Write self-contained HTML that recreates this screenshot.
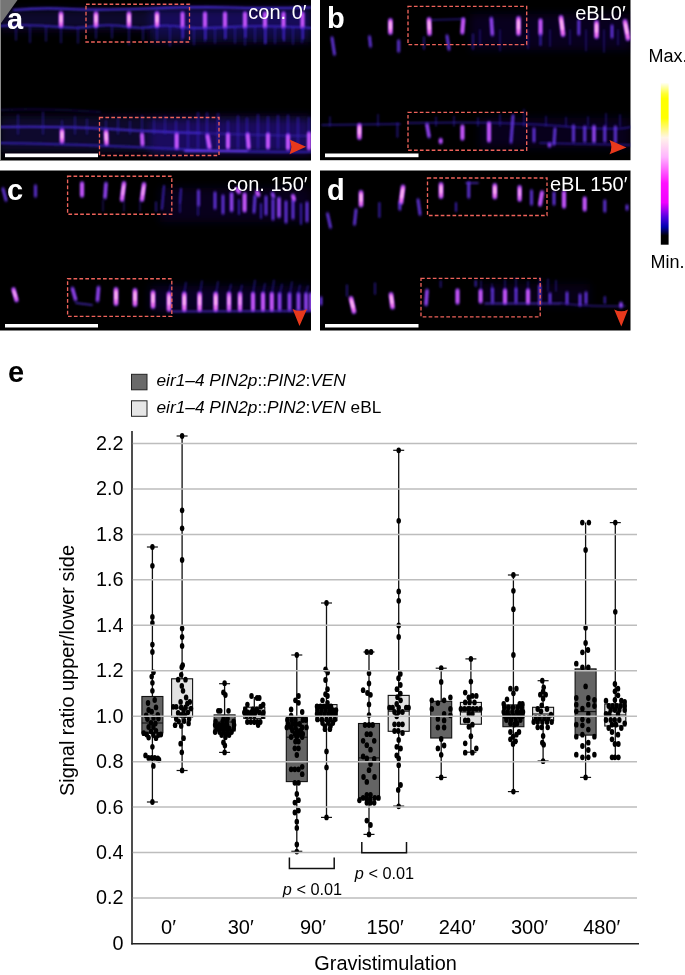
<!DOCTYPE html>
<html><head><meta charset="utf-8"><title>figure</title>
<style>html,body{margin:0;padding:0;background:#fff;}svg{display:block;font-family:"Liberation Sans",sans-serif;}</style>
</head><body>
<svg width="685" height="975" viewBox="0 0 685 975">
<defs>
<filter id="b05" x="-50%" y="-50%" width="200%" height="200%"><feGaussianBlur stdDeviation="0.8"/></filter>
<filter id="b1" x="-50%" y="-50%" width="200%" height="200%"><feGaussianBlur stdDeviation="0.9"/></filter>
<filter id="b2" x="-50%" y="-50%" width="200%" height="200%"><feGaussianBlur stdDeviation="1.3"/></filter>
<filter id="b4" x="-50%" y="-50%" width="200%" height="200%"><feGaussianBlur stdDeviation="4"/></filter>
<linearGradient id="cbar" x1="0" y1="0" x2="0" y2="1">
<stop offset="0.000" stop-color="#ffffff"/>
<stop offset="0.070" stop-color="#ffff30"/>
<stop offset="0.100" stop-color="#ffff00"/>
<stop offset="0.220" stop-color="#ffff00"/>
<stop offset="0.340" stop-color="#fff4e8"/>
<stop offset="0.460" stop-color="#ffb4ff"/>
<stop offset="0.620" stop-color="#ff10ff"/>
<stop offset="0.740" stop-color="#f000ff"/>
<stop offset="0.830" stop-color="#5000e0"/>
<stop offset="0.890" stop-color="#0000b0"/>
<stop offset="0.945" stop-color="#000000"/>
<stop offset="1.000" stop-color="#000000"/>
</linearGradient>
</defs>
<rect width="685" height="975" fill="#fff"/>
<g>
<rect x="0.0" y="0.0" width="311.0" height="160.5" fill="#000"/>
<clipPath id="clip0_0"><rect x="0.0" y="0.0" width="311.0" height="160.5"/></clipPath>
<g clip-path="url(#clip0_0)">
<g filter="url(#b4)">
<rect x="0" y="10" width="311" height="20" fill="#2a18a0" opacity="0.28"/>
<rect x="150" y="8" width="161" height="34" fill="#2a18a0" opacity="0.38"/>
<rect x="0" y="116" width="311" height="36" fill="#24148c" opacity="0.32"/>
<rect x="150" y="120" width="161" height="34" fill="#3018b0" opacity="0.38"/>
</g>
<g filter="url(#b1)" fill="none" stroke-linecap="round">
<path d="M14 10 Q40 7.5 70 9 T150 8.5 T230 7.5 T311 7.5" stroke="#4a30e0" stroke-width="2.2" opacity="0.9"/>
<path d="M0 26 Q30 24 60 27 Q80 29 96 26 Q112 24 129 27 Q143 29 157 26 Q170 25 182 27 T230 27 T311 28" stroke="#4028d0" stroke-width="1.8" opacity="0.85"/>
<line x1="16.0" y1="27" x2="16.0" y2="39.9" stroke="#3620c0" stroke-width="1.6" opacity="0.55"/>
<line x1="30.0" y1="27" x2="30.0" y2="42.4" stroke="#3620c0" stroke-width="1.6" opacity="0.55"/>
<line x1="46.0" y1="27" x2="46.0" y2="41.0" stroke="#3620c0" stroke-width="1.6" opacity="0.55"/>
<line x1="61.0" y1="27" x2="61.0" y2="42.8" stroke="#3620c0" stroke-width="1.6" opacity="0.55"/>
<line x1="78.0" y1="27" x2="78.0" y2="43.0" stroke="#3620c0" stroke-width="1.6" opacity="0.55"/>
<line x1="96.0" y1="27" x2="96.0" y2="38.5" stroke="#3620c0" stroke-width="1.6" opacity="0.55"/>
<line x1="112.0" y1="27" x2="112.0" y2="38.1" stroke="#3620c0" stroke-width="1.6" opacity="0.55"/>
<line x1="129.0" y1="27" x2="129.0" y2="44.7" stroke="#3620c0" stroke-width="1.6" opacity="0.55"/>
<line x1="143.0" y1="27" x2="143.0" y2="40.1" stroke="#3620c0" stroke-width="1.6" opacity="0.55"/>
<line x1="157.0" y1="27" x2="157.0" y2="39.9" stroke="#3620c0" stroke-width="1.6" opacity="0.55"/>
<line x1="170.0" y1="27" x2="170.0" y2="46.0" stroke="#3620c0" stroke-width="1.6" opacity="0.55"/>
<line x1="182.0" y1="27" x2="182.0" y2="41.8" stroke="#3620c0" stroke-width="1.6" opacity="0.55"/>
<line x1="194.0" y1="27" x2="194.0" y2="44.7" stroke="#3620c0" stroke-width="1.6" opacity="0.55"/>
<line x1="205.0" y1="27" x2="205.0" y2="41.8" stroke="#3620c0" stroke-width="1.6" opacity="0.55"/>
<line x1="215.0" y1="27" x2="215.0" y2="43.1" stroke="#3620c0" stroke-width="1.6" opacity="0.55"/>
<line x1="225.0" y1="27" x2="225.0" y2="39.2" stroke="#3620c0" stroke-width="1.6" opacity="0.55"/>
<line x1="235.0" y1="27" x2="235.0" y2="43.1" stroke="#3620c0" stroke-width="1.6" opacity="0.55"/>
<line x1="245.0" y1="27" x2="245.0" y2="44.9" stroke="#3620c0" stroke-width="1.6" opacity="0.55"/>
<line x1="255.0" y1="27" x2="255.0" y2="42.2" stroke="#3620c0" stroke-width="1.6" opacity="0.55"/>
<line x1="265.0" y1="27" x2="265.0" y2="43.9" stroke="#3620c0" stroke-width="1.6" opacity="0.55"/>
<line x1="275.0" y1="27" x2="275.0" y2="43.4" stroke="#3620c0" stroke-width="1.6" opacity="0.55"/>
<line x1="283.0" y1="27" x2="283.0" y2="38.5" stroke="#3620c0" stroke-width="1.6" opacity="0.55"/>
<line x1="293.0" y1="27" x2="293.0" y2="44.1" stroke="#3620c0" stroke-width="1.6" opacity="0.55"/>
<line x1="302.0" y1="27" x2="302.0" y2="42.7" stroke="#3620c0" stroke-width="1.6" opacity="0.55"/>
<path d="M0 127 Q60 126 110 129 T200 133" stroke="#4a30e0" stroke-width="2" opacity="0.85"/>
<path d="M200 133 Q250 135 311 136" stroke="#4a30e0" stroke-width="2" opacity="0.4"/>
<path d="M0 143 Q60 144 110 146 T200 150 T311 152" stroke="#3a24c8" stroke-width="1.8" opacity="0.8"/>
<path d="M185 151 L247 151" stroke="#7040ff" stroke-width="2.2" opacity="0.9"/>
<path d="M0 110 Q50 108 100 112" stroke="#2c1ca8" stroke-width="2" opacity="0.3"/>
<line x1="18.0" y1="115.0" x2="18.0" y2="134" stroke="#3620c0" stroke-width="1.6" opacity="0.55"/>
<line x1="43.0" y1="112.3" x2="43.0" y2="134" stroke="#3620c0" stroke-width="1.6" opacity="0.55"/>
<line x1="62.0" y1="120.7" x2="62.0" y2="134" stroke="#3620c0" stroke-width="1.6" opacity="0.55"/>
<line x1="75.0" y1="116.7" x2="75.0" y2="134" stroke="#3620c0" stroke-width="1.6" opacity="0.55"/>
<line x1="87.0" y1="119.2" x2="87.0" y2="134" stroke="#3620c0" stroke-width="1.6" opacity="0.55"/>
<line x1="106.0" y1="120.8" x2="106.0" y2="134" stroke="#3620c0" stroke-width="1.6" opacity="0.55"/>
<line x1="118.0" y1="119.1" x2="118.0" y2="134" stroke="#3620c0" stroke-width="1.6" opacity="0.55"/>
<line x1="130.0" y1="121.2" x2="130.0" y2="134" stroke="#3620c0" stroke-width="1.6" opacity="0.55"/>
<line x1="142.0" y1="115.9" x2="142.0" y2="134" stroke="#3620c0" stroke-width="1.6" opacity="0.55"/>
<line x1="154.0" y1="120.0" x2="154.0" y2="134" stroke="#3620c0" stroke-width="1.6" opacity="0.55"/>
<line x1="165.0" y1="116.4" x2="165.0" y2="134" stroke="#3620c0" stroke-width="1.6" opacity="0.55"/>
<line x1="176.0" y1="121.4" x2="176.0" y2="148" stroke="#3620c0" stroke-width="2.2" opacity="0.55"/>
<line x1="188.0" y1="120.8" x2="188.0" y2="148" stroke="#3620c0" stroke-width="2.2" opacity="0.55"/>
<line x1="198.0" y1="113.0" x2="198.0" y2="148" stroke="#3620c0" stroke-width="2.2" opacity="0.55"/>
<line x1="207.0" y1="113.4" x2="207.0" y2="148" stroke="#3620c0" stroke-width="2.2" opacity="0.55"/>
<line x1="218.0" y1="114.2" x2="218.0" y2="148" stroke="#3620c0" stroke-width="2.2" opacity="0.55"/>
<line x1="228.0" y1="121.7" x2="228.0" y2="148" stroke="#3620c0" stroke-width="2.2" opacity="0.55"/>
<line x1="238.0" y1="116.4" x2="238.0" y2="148" stroke="#3620c0" stroke-width="2.2" opacity="0.55"/>
<line x1="247.0" y1="118.3" x2="247.0" y2="148" stroke="#3620c0" stroke-width="2.2" opacity="0.55"/>
<line x1="258.0" y1="115.0" x2="258.0" y2="148" stroke="#3620c0" stroke-width="2.2" opacity="0.55"/>
<line x1="268.0" y1="117.1" x2="268.0" y2="148" stroke="#3620c0" stroke-width="2.2" opacity="0.55"/>
<line x1="278.0" y1="115.9" x2="278.0" y2="148" stroke="#3620c0" stroke-width="2.2" opacity="0.55"/>
<line x1="288.0" y1="115.5" x2="288.0" y2="148" stroke="#3620c0" stroke-width="2.2" opacity="0.55"/>
<line x1="298.0" y1="117.9" x2="298.0" y2="148" stroke="#3620c0" stroke-width="2.2" opacity="0.55"/>
<line x1="309.0" y1="117.8" x2="309.0" y2="148" stroke="#3620c0" stroke-width="2.2" opacity="0.55"/>
</g>
<g filter="url(#b2)" stroke-linecap="round" fill="none">
<line x1="61.0" y1="13.0" x2="61.0" y2="26.0" stroke="#9038f0" stroke-opacity="0.80" stroke-width="4.6"/>
<line x1="96.0" y1="13.0" x2="96.0" y2="26.0" stroke="#9038f0" stroke-opacity="0.80" stroke-width="4.6"/>
<line x1="129.0" y1="13.0" x2="129.0" y2="26.0" stroke="#9038f0" stroke-opacity="0.80" stroke-width="4.6"/>
<line x1="157.0" y1="13.0" x2="157.0" y2="26.0" stroke="#9038f0" stroke-opacity="0.80" stroke-width="4.6"/>
<line x1="182.5" y1="13.0" x2="182.5" y2="27.0" stroke="#9038f0" stroke-opacity="0.80" stroke-width="4.0"/>
<line x1="205.0" y1="13.0" x2="205.0" y2="27.0" stroke="#9038f0" stroke-opacity="0.80" stroke-width="4.0"/>
<line x1="225.0" y1="13.0" x2="225.0" y2="27.0" stroke="#9038f0" stroke-opacity="0.80" stroke-width="4.0"/>
<line x1="245.0" y1="13.0" x2="245.0" y2="27.0" stroke="#9038f0" stroke-opacity="0.80" stroke-width="4.0"/>
<line x1="265.0" y1="13.0" x2="265.0" y2="27.0" stroke="#9038f0" stroke-opacity="0.80" stroke-width="4.0"/>
<line x1="283.5" y1="13.0" x2="283.5" y2="27.0" stroke="#9038f0" stroke-opacity="0.80" stroke-width="4.0"/>
<line x1="302.5" y1="13.0" x2="302.5" y2="27.0" stroke="#9038f0" stroke-opacity="0.80" stroke-width="4.0"/>
<line x1="62.0" y1="130.0" x2="62.0" y2="142.0" stroke="#9038f0" stroke-opacity="0.80" stroke-width="4.6"/>
<line x1="106.0" y1="131.0" x2="106.5" y2="144.0" stroke="#9038f0" stroke-opacity="0.80" stroke-width="4.6"/>
<line x1="142.0" y1="134.0" x2="142.5" y2="145.0" stroke="#9038f0" stroke-opacity="0.80" stroke-width="4.0"/>
<line x1="176.7" y1="134.0" x2="176.7" y2="148.0" stroke="#9038f0" stroke-opacity="0.80" stroke-width="4.0"/>
<line x1="207.5" y1="135.0" x2="209.5" y2="148.0" stroke="#9038f0" stroke-opacity="0.80" stroke-width="4.0"/>
<line x1="228.0" y1="134.0" x2="228.0" y2="148.0" stroke="#9038f0" stroke-opacity="0.80" stroke-width="4.0"/>
<line x1="247.7" y1="134.0" x2="248.7" y2="148.0" stroke="#9038f0" stroke-opacity="0.80" stroke-width="4.0"/>
<line x1="268.0" y1="134.0" x2="268.0" y2="148.0" stroke="#9038f0" stroke-opacity="0.80" stroke-width="4.0"/>
<line x1="288.0" y1="135.0" x2="288.0" y2="149.0" stroke="#9038f0" stroke-opacity="0.80" stroke-width="4.0"/>
<line x1="309.0" y1="133.0" x2="309.0" y2="149.0" stroke="#9038f0" stroke-opacity="0.80" stroke-width="4.0"/>
</g>
<g filter="url(#b1)" stroke-linecap="round" fill="none">
<line x1="61.0" y1="14.0" x2="61.0" y2="25.0" stroke="#ff78f8" stroke-opacity="1.00" stroke-width="3.2"/>
<line x1="96.0" y1="14.0" x2="96.0" y2="25.0" stroke="#ff78f8" stroke-opacity="1.00" stroke-width="3.2"/>
<line x1="129.0" y1="14.0" x2="129.0" y2="25.0" stroke="#ff78f8" stroke-opacity="1.00" stroke-width="3.2"/>
<line x1="157.0" y1="14.0" x2="157.0" y2="25.0" stroke="#ff78f8" stroke-opacity="1.00" stroke-width="3.2"/>
<line x1="182.5" y1="14.0" x2="182.5" y2="26.0" stroke="#d860ff" stroke-opacity="1.00" stroke-width="2.6"/>
<line x1="183.0" y1="27.0" x2="183.0" y2="37.5" stroke="#4226c8" stroke-opacity="0.90" stroke-width="1.9"/>
<line x1="205.0" y1="14.0" x2="205.0" y2="26.0" stroke="#d860ff" stroke-opacity="1.00" stroke-width="2.6"/>
<line x1="205.5" y1="27.0" x2="205.5" y2="39.0" stroke="#4226c8" stroke-opacity="0.90" stroke-width="1.9"/>
<line x1="225.0" y1="14.0" x2="225.0" y2="26.0" stroke="#d860ff" stroke-opacity="1.00" stroke-width="2.6"/>
<line x1="225.5" y1="27.0" x2="225.5" y2="38.0" stroke="#4226c8" stroke-opacity="0.90" stroke-width="1.9"/>
<line x1="245.0" y1="14.0" x2="245.0" y2="26.0" stroke="#d860ff" stroke-opacity="1.00" stroke-width="2.6"/>
<line x1="245.5" y1="27.0" x2="245.5" y2="37.0" stroke="#4226c8" stroke-opacity="0.90" stroke-width="1.9"/>
<line x1="265.0" y1="14.0" x2="265.0" y2="26.0" stroke="#d860ff" stroke-opacity="1.00" stroke-width="2.6"/>
<line x1="265.5" y1="27.0" x2="265.5" y2="43.0" stroke="#4226c8" stroke-opacity="0.90" stroke-width="1.9"/>
<line x1="283.5" y1="14.0" x2="283.5" y2="26.0" stroke="#d860ff" stroke-opacity="1.00" stroke-width="2.6"/>
<line x1="284.0" y1="27.0" x2="284.0" y2="40.5" stroke="#4226c8" stroke-opacity="0.90" stroke-width="1.9"/>
<line x1="302.5" y1="14.0" x2="302.5" y2="26.0" stroke="#d860ff" stroke-opacity="1.00" stroke-width="2.6"/>
<line x1="303.0" y1="27.0" x2="303.0" y2="38.5" stroke="#4226c8" stroke-opacity="0.90" stroke-width="1.9"/>
<line x1="62.0" y1="131.0" x2="62.0" y2="141.0" stroke="#ff78f8" stroke-opacity="1.00" stroke-width="3.2"/>
<line x1="106.0" y1="132.0" x2="106.5" y2="143.0" stroke="#ff78f8" stroke-opacity="1.00" stroke-width="3.2"/>
<line x1="142.0" y1="135.0" x2="142.5" y2="144.0" stroke="#d860ff" stroke-opacity="1.00" stroke-width="2.6"/>
<line x1="176.7" y1="135.0" x2="176.7" y2="147.0" stroke="#d860ff" stroke-opacity="1.00" stroke-width="2.6"/>
<line x1="207.5" y1="136.0" x2="209.5" y2="147.0" stroke="#d860ff" stroke-opacity="1.00" stroke-width="2.6"/>
<line x1="228.0" y1="135.0" x2="228.0" y2="147.0" stroke="#d860ff" stroke-opacity="1.00" stroke-width="2.6"/>
<line x1="247.7" y1="135.0" x2="248.7" y2="147.0" stroke="#d860ff" stroke-opacity="1.00" stroke-width="2.6"/>
<line x1="268.0" y1="135.0" x2="268.0" y2="147.0" stroke="#d860ff" stroke-opacity="1.00" stroke-width="2.6"/>
<line x1="288.0" y1="136.0" x2="288.0" y2="148.0" stroke="#d860ff" stroke-opacity="1.00" stroke-width="2.6"/>
<line x1="309.0" y1="134.0" x2="309.0" y2="148.0" stroke="#d860ff" stroke-opacity="1.00" stroke-width="2.6"/>
</g>
<g filter="url(#b05)" stroke-linecap="round" fill="none">
<line x1="61.0" y1="15.7" x2="61.0" y2="21.7" stroke="#ffd2f2" stroke-width="1.9"/>
<line x1="96.0" y1="15.7" x2="96.0" y2="21.7" stroke="#ffd2f2" stroke-width="1.9"/>
<line x1="129.0" y1="15.7" x2="129.0" y2="21.7" stroke="#ffd2f2" stroke-width="1.9"/>
<line x1="157.0" y1="15.7" x2="157.0" y2="21.7" stroke="#ffd2f2" stroke-width="1.9"/>
<line x1="62.0" y1="132.5" x2="62.0" y2="138.0" stroke="#ffd2f2" stroke-width="1.9"/>
<line x1="106.1" y1="133.7" x2="106.3" y2="139.7" stroke="#ffd2f2" stroke-width="1.9"/>
</g>
<path d="M0 0 L17.5 0 L0 24.5 Z" fill="#757575"/>
<rect x="0" y="0" width="1" height="160.5" fill="#8a8a8a"/>
<rect x="86.0" y="4.2" width="103.5" height="37.8" fill="none" stroke="#ee625a" stroke-width="1.35" stroke-dasharray="3.7 2.2"/>
<rect x="99.5" y="117.5" width="119.5" height="38.0" fill="none" stroke="#ee625a" stroke-width="1.35" stroke-dasharray="3.7 2.2"/>
<path d="M306.0 146.7 L289.5 139.6 Q293.1 146.7 289.5 154.3 Z" fill="#e8391c"/>
<rect x="5.0" y="153.5" width="93.0" height="3.7" fill="#fff"/>
<text x="7.0" y="29.3" font-size="29" font-weight="bold" fill="#fff">a</text>
<text x="306.5" y="19.4" font-size="20" fill="#fff" text-anchor="end">con. 0&#8242;</text>
</g></g>
<g>
<rect x="320.0" y="0.0" width="310.5" height="160.2" fill="#000"/>
<clipPath id="clip320_0"><rect x="320.0" y="0.0" width="310.5" height="160.2"/></clipPath>
<g clip-path="url(#clip320_0)">
<g filter="url(#b4)">
<rect x="470" y="14" width="161" height="36" fill="#22128a" opacity="0.22"/>
<rect x="480" y="118" width="150" height="30" fill="#22128a" opacity="0.2"/>
</g>
<g filter="url(#b1)" fill="none" stroke-linecap="round">
<path d="M322 125 L400 124 M408 123 Q500 121 560 126 T630 127" stroke="#3620c0" stroke-width="1.6" opacity="0.7"/>
<path d="M540 143 L630 145" stroke="#3a24c8" stroke-width="1.6" opacity="0.7"/>
<path d="M430 20 L464 19" stroke="#3a24c8" stroke-width="1.4" opacity="0.6"/>
<line x1="330.0" y1="117.0" x2="330.0" y2="126" stroke="#3620c0" stroke-width="1.5" opacity="0.55"/>
<line x1="378.0" y1="114.8" x2="378.0" y2="126" stroke="#3620c0" stroke-width="1.5" opacity="0.55"/>
<line x1="436.0" y1="117.3" x2="436.0" y2="126" stroke="#3620c0" stroke-width="1.5" opacity="0.55"/>
<line x1="454.0" y1="116.6" x2="454.0" y2="126" stroke="#3620c0" stroke-width="1.5" opacity="0.55"/>
<line x1="478.0" y1="117.9" x2="478.0" y2="126" stroke="#3620c0" stroke-width="1.5" opacity="0.55"/>
<line x1="500.0" y1="114.7" x2="500.0" y2="126" stroke="#3620c0" stroke-width="1.5" opacity="0.55"/>
<line x1="524.0" y1="109.6" x2="524.0" y2="126" stroke="#3620c0" stroke-width="1.5" opacity="0.55"/>
<line x1="546.0" y1="116.6" x2="546.0" y2="126" stroke="#3620c0" stroke-width="1.5" opacity="0.55"/>
<line x1="566.0" y1="117.6" x2="566.0" y2="126" stroke="#3620c0" stroke-width="1.5" opacity="0.55"/>
<line x1="588.0" y1="117.0" x2="588.0" y2="126" stroke="#3620c0" stroke-width="1.5" opacity="0.55"/>
<line x1="606.0" y1="113.7" x2="606.0" y2="126" stroke="#3620c0" stroke-width="1.5" opacity="0.55"/>
<line x1="620.0" y1="115.1" x2="620.0" y2="126" stroke="#3620c0" stroke-width="1.5" opacity="0.55"/>
<line x1="480.0" y1="30" x2="480.0" y2="45.7" stroke="#3620c0" stroke-width="1.5" opacity="0.5"/>
<line x1="500.0" y1="30" x2="500.0" y2="50.7" stroke="#3620c0" stroke-width="1.5" opacity="0.5"/>
<line x1="528.0" y1="30" x2="528.0" y2="48.6" stroke="#3620c0" stroke-width="1.5" opacity="0.5"/>
<line x1="550.0" y1="30" x2="550.0" y2="46.3" stroke="#3620c0" stroke-width="1.5" opacity="0.5"/>
<line x1="570.0" y1="30" x2="570.0" y2="44.5" stroke="#3620c0" stroke-width="1.5" opacity="0.5"/>
<line x1="586.0" y1="30" x2="586.0" y2="50.8" stroke="#3620c0" stroke-width="1.5" opacity="0.5"/>
<line x1="604.0" y1="30" x2="604.0" y2="51.9" stroke="#3620c0" stroke-width="1.5" opacity="0.5"/>
<line x1="618.0" y1="30" x2="618.0" y2="44.7" stroke="#3620c0" stroke-width="1.5" opacity="0.5"/>
</g>
<g filter="url(#b2)" stroke-linecap="round" fill="none">
<line x1="390.4" y1="20.0" x2="390.4" y2="33.0" stroke="#9038f0" stroke-opacity="0.80" stroke-width="4.6"/>
<line x1="429.0" y1="19.0" x2="429.5" y2="34.0" stroke="#9038f0" stroke-opacity="0.80" stroke-width="4.6"/>
<line x1="463.3" y1="19.0" x2="462.3" y2="33.0" stroke="#9038f0" stroke-opacity="0.80" stroke-width="4.0"/>
<line x1="491.3" y1="18.0" x2="492.3" y2="35.0" stroke="#5a2ce0" stroke-opacity="0.50" stroke-width="4.0"/>
<line x1="518.5" y1="18.0" x2="518.5" y2="34.0" stroke="#9038f0" stroke-opacity="0.80" stroke-width="4.6"/>
<line x1="540.5" y1="20.0" x2="540.5" y2="34.0" stroke="#9038f0" stroke-opacity="0.80" stroke-width="4.0"/>
<line x1="561.0" y1="17.0" x2="563.0" y2="35.0" stroke="#9038f0" stroke-opacity="0.80" stroke-width="4.6"/>
<line x1="578.8" y1="20.0" x2="578.8" y2="35.0" stroke="#5a2ce0" stroke-opacity="0.30" stroke-width="3.6"/>
<line x1="596.5" y1="22.0" x2="596.5" y2="37.0" stroke="#9038f0" stroke-opacity="0.80" stroke-width="4.6"/>
<line x1="612.0" y1="25.0" x2="612.0" y2="38.0" stroke="#5a2ce0" stroke-opacity="0.30" stroke-width="3.6"/>
<line x1="625.0" y1="21.0" x2="628.0" y2="39.0" stroke="#9038f0" stroke-opacity="0.80" stroke-width="4.6"/>
<line x1="332.0" y1="37.0" x2="334.5" y2="55.0" stroke="#5a2ce0" stroke-opacity="0.30" stroke-width="3.6"/>
<line x1="369.5" y1="36.0" x2="370.5" y2="47.0" stroke="#5a2ce0" stroke-opacity="0.30" stroke-width="3.6"/>
<line x1="398.6" y1="40.0" x2="398.6" y2="52.0" stroke="#5a2ce0" stroke-opacity="0.30" stroke-width="3.6"/>
<line x1="447.0" y1="35.0" x2="449.0" y2="50.0" stroke="#5a2ce0" stroke-opacity="0.30" stroke-width="3.6"/>
<line x1="359.4" y1="125.0" x2="359.4" y2="138.0" stroke="#9038f0" stroke-opacity="0.80" stroke-width="4.6"/>
<line x1="427.0" y1="124.0" x2="429.0" y2="137.0" stroke="#5a2ce0" stroke-opacity="0.50" stroke-width="4.0"/>
<line x1="462.4" y1="126.0" x2="462.4" y2="139.0" stroke="#9038f0" stroke-opacity="0.80" stroke-width="4.0"/>
<line x1="440.7" y1="139.5" x2="440.7" y2="142.5" stroke="#9038f0" stroke-opacity="0.80" stroke-width="4.0"/>
<line x1="489.0" y1="123.0" x2="489.0" y2="141.0" stroke="#9038f0" stroke-opacity="0.80" stroke-width="4.0"/>
<line x1="513.0" y1="115.0" x2="511.0" y2="143.0" stroke="#5a2ce0" stroke-opacity="0.30" stroke-width="3.6"/>
<line x1="534.0" y1="128.0" x2="534.0" y2="142.0" stroke="#5a2ce0" stroke-opacity="0.30" stroke-width="3.6"/>
<line x1="555.0" y1="128.0" x2="554.0" y2="145.0" stroke="#5a2ce0" stroke-opacity="0.30" stroke-width="3.6"/>
<line x1="573.5" y1="125.0" x2="573.5" y2="142.0" stroke="#5a2ce0" stroke-opacity="0.30" stroke-width="3.6"/>
<line x1="584.7" y1="126.0" x2="584.7" y2="142.0" stroke="#5a2ce0" stroke-opacity="0.30" stroke-width="3.6"/>
<line x1="594.0" y1="126.0" x2="594.0" y2="142.0" stroke="#5a2ce0" stroke-opacity="0.50" stroke-width="4.0"/>
<line x1="604.8" y1="126.0" x2="604.8" y2="142.0" stroke="#5a2ce0" stroke-opacity="0.30" stroke-width="3.6"/>
<line x1="615.4" y1="126.0" x2="615.4" y2="143.0" stroke="#5a2ce0" stroke-opacity="0.30" stroke-width="3.6"/>
<line x1="549.5" y1="143.5" x2="549.5" y2="146.5" stroke="#5a2ce0" stroke-opacity="0.50" stroke-width="4.0"/>
</g>
<g filter="url(#b1)" stroke-linecap="round" fill="none">
<line x1="390.4" y1="21.0" x2="390.4" y2="32.0" stroke="#ff78f8" stroke-opacity="1.00" stroke-width="3.2"/>
<line x1="429.0" y1="20.0" x2="429.5" y2="33.0" stroke="#ff78f8" stroke-opacity="1.00" stroke-width="3.2"/>
<line x1="463.3" y1="20.0" x2="462.3" y2="32.0" stroke="#d860ff" stroke-opacity="1.00" stroke-width="2.6"/>
<line x1="491.3" y1="19.0" x2="492.3" y2="34.0" stroke="#a048f8" stroke-opacity="1.00" stroke-width="2.6"/>
<line x1="518.5" y1="19.0" x2="518.5" y2="33.0" stroke="#ff78f8" stroke-opacity="1.00" stroke-width="3.2"/>
<line x1="540.5" y1="21.0" x2="540.5" y2="33.0" stroke="#d860ff" stroke-opacity="1.00" stroke-width="2.6"/>
<line x1="540.5" y1="34.0" x2="540.5" y2="45.0" stroke="#4226c8" stroke-opacity="0.90" stroke-width="1.9"/>
<line x1="561.0" y1="18.0" x2="563.0" y2="34.0" stroke="#ff78f8" stroke-opacity="1.00" stroke-width="3.2"/>
<line x1="578.8" y1="21.0" x2="578.8" y2="34.0" stroke="#6a38e8" stroke-opacity="0.95" stroke-width="2.2"/>
<line x1="596.5" y1="23.0" x2="596.5" y2="36.0" stroke="#ff78f8" stroke-opacity="1.00" stroke-width="3.2"/>
<line x1="612.0" y1="26.0" x2="612.0" y2="37.0" stroke="#6a38e8" stroke-opacity="0.95" stroke-width="2.2"/>
<line x1="625.0" y1="22.0" x2="628.0" y2="38.0" stroke="#ff78f8" stroke-opacity="1.00" stroke-width="3.2"/>
<line x1="332.0" y1="38.0" x2="334.5" y2="54.0" stroke="#6a38e8" stroke-opacity="0.95" stroke-width="2.2"/>
<line x1="369.5" y1="37.0" x2="370.5" y2="46.0" stroke="#6a38e8" stroke-opacity="0.95" stroke-width="2.2"/>
<line x1="398.6" y1="41.0" x2="398.6" y2="51.0" stroke="#6a38e8" stroke-opacity="0.95" stroke-width="2.2"/>
<line x1="424.0" y1="37.0" x2="424.0" y2="49.0" stroke="#2e1ca0" stroke-opacity="0.80" stroke-width="1.7"/>
<line x1="447.0" y1="36.0" x2="449.0" y2="49.0" stroke="#6a38e8" stroke-opacity="0.95" stroke-width="2.2"/>
<line x1="473.0" y1="34.0" x2="473.0" y2="49.0" stroke="#2e1ca0" stroke-opacity="0.80" stroke-width="1.7"/>
<line x1="359.4" y1="126.0" x2="359.4" y2="137.0" stroke="#ff78f8" stroke-opacity="1.00" stroke-width="3.2"/>
<line x1="427.0" y1="125.0" x2="429.0" y2="136.0" stroke="#a048f8" stroke-opacity="1.00" stroke-width="2.6"/>
<line x1="462.4" y1="127.0" x2="462.4" y2="138.0" stroke="#d860ff" stroke-opacity="1.00" stroke-width="2.6"/>
<line x1="440.7" y1="140.5" x2="440.7" y2="141.5" stroke="#d860ff" stroke-opacity="1.00" stroke-width="2.6"/>
<line x1="397.4" y1="123.0" x2="397.4" y2="137.0" stroke="#2e1ca0" stroke-opacity="0.80" stroke-width="1.7"/>
<line x1="489.0" y1="124.0" x2="489.0" y2="140.0" stroke="#d860ff" stroke-opacity="1.00" stroke-width="2.6"/>
<line x1="513.0" y1="116.0" x2="511.0" y2="142.0" stroke="#6a38e8" stroke-opacity="0.95" stroke-width="2.2"/>
<line x1="534.0" y1="129.0" x2="534.0" y2="141.0" stroke="#6a38e8" stroke-opacity="0.95" stroke-width="2.2"/>
<line x1="555.0" y1="129.0" x2="554.0" y2="144.0" stroke="#6a38e8" stroke-opacity="0.95" stroke-width="2.2"/>
<line x1="573.5" y1="126.0" x2="573.5" y2="141.0" stroke="#6a38e8" stroke-opacity="0.95" stroke-width="2.2"/>
<line x1="584.7" y1="127.0" x2="584.7" y2="141.0" stroke="#6a38e8" stroke-opacity="0.95" stroke-width="2.2"/>
<line x1="594.0" y1="127.0" x2="594.0" y2="141.0" stroke="#a048f8" stroke-opacity="1.00" stroke-width="2.6"/>
<line x1="604.8" y1="127.0" x2="604.8" y2="141.0" stroke="#6a38e8" stroke-opacity="0.95" stroke-width="2.2"/>
<line x1="615.4" y1="127.0" x2="615.4" y2="142.0" stroke="#6a38e8" stroke-opacity="0.95" stroke-width="2.2"/>
<line x1="549.5" y1="144.5" x2="549.5" y2="145.5" stroke="#a048f8" stroke-opacity="1.00" stroke-width="2.6"/>
</g>
<g filter="url(#b05)" stroke-linecap="round" fill="none">
<line x1="390.4" y1="22.6" x2="390.4" y2="28.7" stroke="#ffd2f2" stroke-width="1.9"/>
<line x1="429.1" y1="21.9" x2="429.4" y2="29.1" stroke="#ffd2f2" stroke-width="1.9"/>
<line x1="518.5" y1="21.1" x2="518.5" y2="28.8" stroke="#ffd2f2" stroke-width="1.9"/>
<line x1="561.3" y1="20.4" x2="562.4" y2="29.2" stroke="#ffd2f2" stroke-width="1.9"/>
<line x1="596.5" y1="24.9" x2="596.5" y2="32.1" stroke="#ffd2f2" stroke-width="1.9"/>
<line x1="625.5" y1="24.4" x2="627.1" y2="33.2" stroke="#ffd2f2" stroke-width="1.9"/>
<line x1="359.4" y1="127.7" x2="359.4" y2="133.7" stroke="#ffd2f2" stroke-width="1.9"/>
</g>
<rect x="408.0" y="6.4" width="118.7" height="38.2" fill="none" stroke="#ee625a" stroke-width="1.35" stroke-dasharray="3.7 2.2"/>
<rect x="408.0" y="112.4" width="118.7" height="37.8" fill="none" stroke="#ee625a" stroke-width="1.35" stroke-dasharray="3.7 2.2"/>
<path d="M626.5 147.4 L609.5 140.0 Q613.2 147.4 609.5 154.3 Z" fill="#e8391c"/>
<rect x="325.0" y="153.5" width="93.5" height="3.7" fill="#fff"/>
<text x="327.0" y="28.3" font-size="29" font-weight="bold" fill="#fff">b</text>
<text x="625.7" y="19.5" font-size="20" fill="#fff" text-anchor="end">eBL0&#8242;</text>
</g></g>
<g>
<rect x="0.0" y="170.5" width="311.0" height="160.0" fill="#000"/>
<clipPath id="clip0_170"><rect x="0.0" y="170.5" width="311.0" height="160.0"/></clipPath>
<g clip-path="url(#clip0_170)">
<g filter="url(#b4)">
<rect x="160" y="188" width="151" height="34" fill="#22128a" opacity="0.2"/>
<rect x="150" y="286" width="161" height="26" fill="#2a14a0" opacity="0.22"/>
</g>
<g filter="url(#b1)" fill="none" stroke-linecap="round">
<path d="M172 311.5 L311 311" stroke="#5a34e8" stroke-width="1.6" opacity="0.85"/>
<path d="M76 303 L92 305" stroke="#5a34e8" stroke-width="1.6" opacity="0.8"/>
<line x1="171.0" y1="284.8" x2="169.0" y2="294" stroke="#3620c0" stroke-width="1.5" opacity="0.6"/>
<line x1="186.0" y1="282.5" x2="184.0" y2="294" stroke="#3620c0" stroke-width="1.5" opacity="0.6"/>
<line x1="202.0" y1="280.9" x2="200.0" y2="294" stroke="#3620c0" stroke-width="1.5" opacity="0.6"/>
<line x1="218.0" y1="281.8" x2="216.0" y2="294" stroke="#3620c0" stroke-width="1.5" opacity="0.6"/>
<line x1="231.0" y1="284.6" x2="229.0" y2="294" stroke="#3620c0" stroke-width="1.5" opacity="0.6"/>
<line x1="242.0" y1="285.2" x2="240.0" y2="294" stroke="#3620c0" stroke-width="1.5" opacity="0.6"/>
<line x1="255.0" y1="280.3" x2="253.0" y2="294" stroke="#3620c0" stroke-width="1.5" opacity="0.6"/>
<line x1="265.0" y1="283.7" x2="263.0" y2="294" stroke="#3620c0" stroke-width="1.5" opacity="0.6"/>
<line x1="274.0" y1="280.3" x2="272.0" y2="294" stroke="#3620c0" stroke-width="1.5" opacity="0.6"/>
<line x1="282.0" y1="284.3" x2="280.0" y2="294" stroke="#3620c0" stroke-width="1.5" opacity="0.6"/>
<line x1="292.0" y1="282.0" x2="290.0" y2="294" stroke="#3620c0" stroke-width="1.5" opacity="0.6"/>
<line x1="300.0" y1="285.3" x2="298.0" y2="294" stroke="#3620c0" stroke-width="1.5" opacity="0.6"/>
<line x1="308.0" y1="285.9" x2="306.0" y2="294" stroke="#3620c0" stroke-width="1.5" opacity="0.6"/>
<line x1="103.0" y1="200" x2="103.0" y2="211" stroke="#3018a8" stroke-width="1.5" opacity="0.5"/>
<line x1="124.0" y1="200" x2="124.0" y2="211" stroke="#3018a8" stroke-width="1.5" opacity="0.5"/>
<line x1="140.0" y1="200" x2="140.0" y2="211" stroke="#3018a8" stroke-width="1.5" opacity="0.5"/>
</g>
<g filter="url(#b2)" stroke-linecap="round" fill="none">
<line x1="3.0" y1="188.0" x2="6.0" y2="201.0" stroke="#5a2ce0" stroke-opacity="0.30" stroke-width="3.6"/>
<line x1="35.5" y1="185.0" x2="35.5" y2="197.0" stroke="#5a2ce0" stroke-opacity="0.30" stroke-width="3.6"/>
<line x1="82.0" y1="183.0" x2="82.0" y2="196.0" stroke="#9038f0" stroke-opacity="0.80" stroke-width="4.0"/>
<line x1="106.0" y1="183.0" x2="105.0" y2="198.0" stroke="#5a2ce0" stroke-opacity="0.50" stroke-width="4.0"/>
<line x1="124.0" y1="183.0" x2="122.0" y2="200.0" stroke="#9038f0" stroke-opacity="0.80" stroke-width="4.3"/>
<line x1="144.0" y1="184.0" x2="142.0" y2="200.0" stroke="#9038f0" stroke-opacity="0.80" stroke-width="4.3"/>
<line x1="198.5" y1="190.0" x2="198.5" y2="206.0" stroke="#5a2ce0" stroke-opacity="0.30" stroke-width="3.6"/>
<line x1="215.0" y1="192.0" x2="215.0" y2="209.0" stroke="#5a2ce0" stroke-opacity="0.30" stroke-width="3.6"/>
<line x1="223.0" y1="195.0" x2="223.0" y2="214.0" stroke="#5a2ce0" stroke-opacity="0.30" stroke-width="3.6"/>
<line x1="231.6" y1="193.0" x2="231.6" y2="211.0" stroke="#5a2ce0" stroke-opacity="0.50" stroke-width="4.0"/>
<line x1="244.6" y1="194.0" x2="244.6" y2="211.0" stroke="#9038f0" stroke-opacity="0.80" stroke-width="4.0"/>
<line x1="255.0" y1="195.0" x2="254.0" y2="213.0" stroke="#5a2ce0" stroke-opacity="0.30" stroke-width="3.6"/>
<line x1="266.0" y1="196.0" x2="266.0" y2="215.0" stroke="#5a2ce0" stroke-opacity="0.30" stroke-width="3.6"/>
<line x1="273.0" y1="199.0" x2="273.0" y2="220.0" stroke="#5a2ce0" stroke-opacity="0.30" stroke-width="3.6"/>
<line x1="279.0" y1="198.0" x2="279.0" y2="217.0" stroke="#5a2ce0" stroke-opacity="0.50" stroke-width="4.0"/>
<line x1="286.0" y1="201.0" x2="286.0" y2="223.0" stroke="#5a2ce0" stroke-opacity="0.30" stroke-width="3.6"/>
<line x1="293.0" y1="200.0" x2="293.0" y2="219.0" stroke="#5a2ce0" stroke-opacity="0.30" stroke-width="3.6"/>
<line x1="307.0" y1="202.0" x2="307.0" y2="222.0" stroke="#5a2ce0" stroke-opacity="0.30" stroke-width="3.6"/>
<line x1="237.0" y1="188.5" x2="239.0" y2="192.5" stroke="#9038f0" stroke-opacity="0.80" stroke-width="4.0"/>
<line x1="257.0" y1="191.5" x2="258.5" y2="195.5" stroke="#9038f0" stroke-opacity="0.80" stroke-width="4.0"/>
<line x1="272.5" y1="193.0" x2="273.5" y2="197.5" stroke="#5a2ce0" stroke-opacity="0.50" stroke-width="4.0"/>
<line x1="293.0" y1="195.5" x2="294.0" y2="200.0" stroke="#9038f0" stroke-opacity="0.80" stroke-width="4.0"/>
<line x1="13.5" y1="289.0" x2="16.5" y2="300.5" stroke="#9038f0" stroke-opacity="0.80" stroke-width="4.3"/>
<line x1="72.5" y1="288.0" x2="75.5" y2="300.0" stroke="#5a2ce0" stroke-opacity="0.50" stroke-width="4.0"/>
<line x1="98.5" y1="287.0" x2="97.5" y2="301.0" stroke="#5a2ce0" stroke-opacity="0.50" stroke-width="4.0"/>
<line x1="116.0" y1="289.0" x2="116.0" y2="304.0" stroke="#9038f0" stroke-opacity="0.80" stroke-width="4.6"/>
<line x1="135.0" y1="290.0" x2="135.0" y2="305.0" stroke="#9038f0" stroke-opacity="0.80" stroke-width="4.6"/>
<line x1="153.0" y1="292.0" x2="153.0" y2="307.0" stroke="#9038f0" stroke-opacity="0.80" stroke-width="4.6"/>
<line x1="169.0" y1="293.5" x2="169.0" y2="310.0" stroke="#9038f0" stroke-opacity="0.80" stroke-width="4.6"/>
<line x1="184.3" y1="293.5" x2="184.3" y2="310.0" stroke="#9038f0" stroke-opacity="0.80" stroke-width="4.6"/>
<line x1="199.6" y1="293.5" x2="199.6" y2="310.0" stroke="#9038f0" stroke-opacity="0.80" stroke-width="4.6"/>
<line x1="215.7" y1="293.5" x2="215.7" y2="310.0" stroke="#9038f0" stroke-opacity="0.80" stroke-width="4.6"/>
<line x1="229.0" y1="293.5" x2="229.0" y2="310.0" stroke="#9038f0" stroke-opacity="0.80" stroke-width="4.3"/>
<line x1="240.0" y1="293.5" x2="240.0" y2="310.0" stroke="#9038f0" stroke-opacity="0.80" stroke-width="4.3"/>
<line x1="253.0" y1="293.5" x2="253.0" y2="310.0" stroke="#9038f0" stroke-opacity="0.80" stroke-width="4.0"/>
<line x1="263.0" y1="293.5" x2="263.0" y2="310.0" stroke="#9038f0" stroke-opacity="0.80" stroke-width="4.0"/>
<line x1="271.8" y1="293.5" x2="271.8" y2="310.0" stroke="#9038f0" stroke-opacity="0.80" stroke-width="4.0"/>
<line x1="279.6" y1="293.5" x2="279.6" y2="310.0" stroke="#5a2ce0" stroke-opacity="0.50" stroke-width="4.0"/>
<line x1="289.5" y1="293.5" x2="289.5" y2="310.0" stroke="#5a2ce0" stroke-opacity="0.50" stroke-width="4.0"/>
<line x1="298.5" y1="293.5" x2="298.5" y2="310.0" stroke="#5a2ce0" stroke-opacity="0.50" stroke-width="4.0"/>
<line x1="306.0" y1="293.5" x2="306.0" y2="310.0" stroke="#5a2ce0" stroke-opacity="0.50" stroke-width="4.0"/>
<line x1="311.0" y1="293.5" x2="311.0" y2="310.0" stroke="#5a2ce0" stroke-opacity="0.50" stroke-width="4.0"/>
</g>
<g filter="url(#b1)" stroke-linecap="round" fill="none">
<line x1="3.0" y1="189.0" x2="6.0" y2="200.0" stroke="#6a38e8" stroke-opacity="0.95" stroke-width="2.2"/>
<line x1="35.5" y1="186.0" x2="35.5" y2="196.0" stroke="#6a38e8" stroke-opacity="0.95" stroke-width="2.2"/>
<line x1="82.0" y1="184.0" x2="82.0" y2="195.0" stroke="#d860ff" stroke-opacity="1.00" stroke-width="2.6"/>
<line x1="106.0" y1="184.0" x2="105.0" y2="197.0" stroke="#a048f8" stroke-opacity="1.00" stroke-width="2.6"/>
<line x1="124.0" y1="184.0" x2="122.0" y2="199.0" stroke="#f070ff" stroke-opacity="1.00" stroke-width="2.9"/>
<line x1="144.0" y1="185.0" x2="142.0" y2="199.0" stroke="#f070ff" stroke-opacity="1.00" stroke-width="2.9"/>
<line x1="156.0" y1="202.0" x2="156.0" y2="211.0" stroke="#2e1ca0" stroke-opacity="0.80" stroke-width="1.7"/>
<line x1="164.0" y1="186.0" x2="162.0" y2="209.0" stroke="#4226c8" stroke-opacity="0.90" stroke-width="1.9"/>
<line x1="181.0" y1="189.0" x2="180.0" y2="203.0" stroke="#4226c8" stroke-opacity="0.90" stroke-width="1.9"/>
<line x1="180.0" y1="204.0" x2="180.0" y2="212.0" stroke="#2e1ca0" stroke-opacity="0.80" stroke-width="1.7"/>
<line x1="198.5" y1="191.0" x2="198.5" y2="205.0" stroke="#6a38e8" stroke-opacity="0.95" stroke-width="2.2"/>
<line x1="198.0" y1="207.0" x2="198.0" y2="215.0" stroke="#2e1ca0" stroke-opacity="0.80" stroke-width="1.7"/>
<line x1="215.0" y1="193.0" x2="215.0" y2="208.0" stroke="#6a38e8" stroke-opacity="0.95" stroke-width="2.2"/>
<line x1="223.0" y1="196.0" x2="223.0" y2="213.0" stroke="#6a38e8" stroke-opacity="0.95" stroke-width="2.2"/>
<line x1="231.6" y1="194.0" x2="231.6" y2="210.0" stroke="#a048f8" stroke-opacity="1.00" stroke-width="2.6"/>
<line x1="244.6" y1="195.0" x2="244.6" y2="210.0" stroke="#d860ff" stroke-opacity="1.00" stroke-width="2.6"/>
<line x1="239.0" y1="200.0" x2="239.0" y2="214.0" stroke="#4226c8" stroke-opacity="0.90" stroke-width="1.9"/>
<line x1="255.0" y1="196.0" x2="254.0" y2="212.0" stroke="#6a38e8" stroke-opacity="0.95" stroke-width="2.2"/>
<line x1="261.0" y1="204.0" x2="261.0" y2="218.0" stroke="#4226c8" stroke-opacity="0.90" stroke-width="1.9"/>
<line x1="266.0" y1="197.0" x2="266.0" y2="214.0" stroke="#6a38e8" stroke-opacity="0.95" stroke-width="2.2"/>
<line x1="273.0" y1="200.0" x2="273.0" y2="219.0" stroke="#6a38e8" stroke-opacity="0.95" stroke-width="2.2"/>
<line x1="279.0" y1="199.0" x2="279.0" y2="216.0" stroke="#a048f8" stroke-opacity="1.00" stroke-width="2.6"/>
<line x1="286.0" y1="202.0" x2="286.0" y2="222.0" stroke="#6a38e8" stroke-opacity="0.95" stroke-width="2.2"/>
<line x1="293.0" y1="201.0" x2="293.0" y2="218.0" stroke="#6a38e8" stroke-opacity="0.95" stroke-width="2.2"/>
<line x1="301.0" y1="204.0" x2="301.0" y2="224.0" stroke="#4226c8" stroke-opacity="0.90" stroke-width="1.9"/>
<line x1="307.0" y1="203.0" x2="307.0" y2="221.0" stroke="#6a38e8" stroke-opacity="0.95" stroke-width="2.2"/>
<line x1="237.0" y1="189.5" x2="239.0" y2="191.5" stroke="#d860ff" stroke-opacity="1.00" stroke-width="2.6"/>
<line x1="257.0" y1="192.5" x2="258.5" y2="194.5" stroke="#d860ff" stroke-opacity="1.00" stroke-width="2.6"/>
<line x1="272.5" y1="194.0" x2="273.5" y2="196.5" stroke="#a048f8" stroke-opacity="1.00" stroke-width="2.6"/>
<line x1="293.0" y1="196.5" x2="294.0" y2="199.0" stroke="#d860ff" stroke-opacity="1.00" stroke-width="2.6"/>
<line x1="13.5" y1="290.0" x2="16.5" y2="299.5" stroke="#f070ff" stroke-opacity="1.00" stroke-width="2.9"/>
<line x1="72.5" y1="289.0" x2="75.5" y2="299.0" stroke="#a048f8" stroke-opacity="1.00" stroke-width="2.6"/>
<line x1="98.5" y1="288.0" x2="97.5" y2="300.0" stroke="#a048f8" stroke-opacity="1.00" stroke-width="2.6"/>
<line x1="116.0" y1="290.0" x2="116.0" y2="303.0" stroke="#ff78f8" stroke-opacity="1.00" stroke-width="3.2"/>
<line x1="135.0" y1="291.0" x2="135.0" y2="304.0" stroke="#ff78f8" stroke-opacity="1.00" stroke-width="3.2"/>
<line x1="153.0" y1="293.0" x2="153.0" y2="306.0" stroke="#ff78f8" stroke-opacity="1.00" stroke-width="3.2"/>
<line x1="169.0" y1="294.5" x2="169.0" y2="309.0" stroke="#ff78f8" stroke-opacity="1.00" stroke-width="3.2"/>
<line x1="184.3" y1="294.5" x2="184.3" y2="309.0" stroke="#ff78f8" stroke-opacity="1.00" stroke-width="3.2"/>
<line x1="199.6" y1="294.5" x2="199.6" y2="309.0" stroke="#ff78f8" stroke-opacity="1.00" stroke-width="3.2"/>
<line x1="215.7" y1="294.5" x2="215.7" y2="309.0" stroke="#ff78f8" stroke-opacity="1.00" stroke-width="3.2"/>
<line x1="229.0" y1="294.5" x2="229.0" y2="309.0" stroke="#f070ff" stroke-opacity="1.00" stroke-width="2.9"/>
<line x1="240.0" y1="294.5" x2="240.0" y2="309.0" stroke="#f070ff" stroke-opacity="1.00" stroke-width="2.9"/>
<line x1="253.0" y1="294.5" x2="253.0" y2="309.0" stroke="#d860ff" stroke-opacity="1.00" stroke-width="2.6"/>
<line x1="263.0" y1="294.5" x2="263.0" y2="309.0" stroke="#d860ff" stroke-opacity="1.00" stroke-width="2.6"/>
<line x1="271.8" y1="294.5" x2="271.8" y2="309.0" stroke="#d860ff" stroke-opacity="1.00" stroke-width="2.6"/>
<line x1="279.6" y1="294.5" x2="279.6" y2="309.0" stroke="#a048f8" stroke-opacity="1.00" stroke-width="2.6"/>
<line x1="289.5" y1="294.5" x2="289.5" y2="309.0" stroke="#a048f8" stroke-opacity="1.00" stroke-width="2.6"/>
<line x1="298.5" y1="294.5" x2="298.5" y2="309.0" stroke="#a048f8" stroke-opacity="1.00" stroke-width="2.6"/>
<line x1="306.0" y1="294.5" x2="306.0" y2="309.0" stroke="#a048f8" stroke-opacity="1.00" stroke-width="2.6"/>
<line x1="311.0" y1="294.5" x2="311.0" y2="309.0" stroke="#a048f8" stroke-opacity="1.00" stroke-width="2.6"/>
</g>
<g filter="url(#b05)" stroke-linecap="round" fill="none">
<line x1="123.7" y1="186.2" x2="122.6" y2="194.5" stroke="#ffd2f2" stroke-width="1.3"/>
<line x1="143.7" y1="187.1" x2="142.6" y2="194.8" stroke="#ffd2f2" stroke-width="1.3"/>
<line x1="13.9" y1="291.4" x2="15.6" y2="296.6" stroke="#ffd2f2" stroke-width="1.3"/>
<line x1="116.0" y1="291.9" x2="116.0" y2="299.1" stroke="#ffd2f2" stroke-width="1.9"/>
<line x1="135.0" y1="292.9" x2="135.0" y2="300.1" stroke="#ffd2f2" stroke-width="1.9"/>
<line x1="153.0" y1="294.9" x2="153.0" y2="302.1" stroke="#ffd2f2" stroke-width="1.9"/>
<line x1="169.0" y1="296.7" x2="169.0" y2="304.6" stroke="#ffd2f2" stroke-width="1.9"/>
<line x1="184.3" y1="296.7" x2="184.3" y2="304.6" stroke="#ffd2f2" stroke-width="1.9"/>
<line x1="199.6" y1="296.7" x2="199.6" y2="304.6" stroke="#ffd2f2" stroke-width="1.9"/>
<line x1="215.7" y1="296.7" x2="215.7" y2="304.6" stroke="#ffd2f2" stroke-width="1.9"/>
<line x1="229.0" y1="296.7" x2="229.0" y2="304.6" stroke="#ffd2f2" stroke-width="1.3"/>
<line x1="240.0" y1="296.7" x2="240.0" y2="304.6" stroke="#ffd2f2" stroke-width="1.3"/>
</g>
<rect x="67.6" y="176.2" width="104.2" height="38.0" fill="none" stroke="#ee625a" stroke-width="1.35" stroke-dasharray="3.7 2.2"/>
<rect x="67.6" y="278.7" width="104.2" height="37.6" fill="none" stroke="#ee625a" stroke-width="1.35" stroke-dasharray="3.7 2.2"/>
<path d="M299.5 326.0 L292.6 309.0 Q299.5 312.7 307.0 309.0 Z" fill="#e8391c"/>
<rect x="5.0" y="324.0" width="93.0" height="3.5" fill="#fff"/>
<text x="7.0" y="200.4" font-size="29" font-weight="bold" fill="#fff">c</text>
<text x="307.6" y="190.5" font-size="20" fill="#fff" text-anchor="end">con. 150&#8242;</text>
</g></g>
<g>
<rect x="320.0" y="170.5" width="310.5" height="160.0" fill="#000"/>
<clipPath id="clip320_170"><rect x="320.0" y="170.5" width="310.5" height="160.0"/></clipPath>
<g clip-path="url(#clip320_170)">
<g filter="url(#b4)">
<rect x="480" y="284" width="110" height="22" fill="#22128a" opacity="0.15"/>
</g>
<g filter="url(#b1)" fill="none" stroke-linecap="round">
<path d="M485 303.5 L560 303.5" stroke="#5a34e8" stroke-width="1.5" opacity="0.8"/>
<path d="M560 303 Q590 307 625 306" stroke="#4428d0" stroke-width="1.4" opacity="0.6"/>
<path d="M466 183 L478 183" stroke="#6038f0" stroke-width="1.5" opacity="0.8"/>
<line x1="481.0" y1="281.0" x2="481.0" y2="291" stroke="#3620c0" stroke-width="1.4" opacity="0.6"/>
<line x1="492.0" y1="284.0" x2="492.0" y2="291" stroke="#3620c0" stroke-width="1.4" opacity="0.6"/>
<line x1="505.0" y1="279.9" x2="505.0" y2="291" stroke="#3620c0" stroke-width="1.4" opacity="0.6"/>
<line x1="516.0" y1="278.5" x2="516.0" y2="291" stroke="#3620c0" stroke-width="1.4" opacity="0.6"/>
<line x1="528.0" y1="281.6" x2="528.0" y2="291" stroke="#3620c0" stroke-width="1.4" opacity="0.6"/>
<line x1="540.0" y1="278.2" x2="540.0" y2="291" stroke="#3620c0" stroke-width="1.4" opacity="0.6"/>
<line x1="548.0" y1="279.2" x2="548.0" y2="291" stroke="#3620c0" stroke-width="1.4" opacity="0.6"/>
<line x1="556.0" y1="280.4" x2="556.0" y2="291" stroke="#3620c0" stroke-width="1.4" opacity="0.6"/>
</g>
<g filter="url(#b2)" stroke-linecap="round" fill="none">
<line x1="327.5" y1="213.0" x2="330.5" y2="228.0" stroke="#5a2ce0" stroke-opacity="0.30" stroke-width="3.6"/>
<line x1="356.0" y1="209.0" x2="354.5" y2="225.0" stroke="#5a2ce0" stroke-opacity="0.30" stroke-width="3.6"/>
<line x1="361.0" y1="192.0" x2="361.0" y2="205.5" stroke="#9038f0" stroke-opacity="0.80" stroke-width="4.6"/>
<line x1="403.0" y1="186.5" x2="401.0" y2="203.0" stroke="#9038f0" stroke-opacity="0.80" stroke-width="4.6"/>
<line x1="399.8" y1="202.0" x2="399.8" y2="210.0" stroke="#5a2ce0" stroke-opacity="0.30" stroke-width="3.6"/>
<line x1="418.0" y1="199.0" x2="420.0" y2="215.0" stroke="#5a2ce0" stroke-opacity="0.30" stroke-width="3.6"/>
<line x1="441.0" y1="184.0" x2="441.0" y2="197.0" stroke="#9038f0" stroke-opacity="0.80" stroke-width="4.6"/>
<line x1="468.7" y1="182.0" x2="468.7" y2="198.0" stroke="#5a2ce0" stroke-opacity="0.30" stroke-width="3.6"/>
<line x1="494.8" y1="185.0" x2="494.8" y2="197.5" stroke="#9038f0" stroke-opacity="0.80" stroke-width="4.6"/>
<line x1="519.6" y1="187.0" x2="519.6" y2="200.0" stroke="#9038f0" stroke-opacity="0.80" stroke-width="4.3"/>
<line x1="531.5" y1="190.0" x2="531.5" y2="205.0" stroke="#5a2ce0" stroke-opacity="0.30" stroke-width="3.6"/>
<line x1="542.0" y1="192.0" x2="540.0" y2="205.0" stroke="#9038f0" stroke-opacity="0.80" stroke-width="4.0"/>
<line x1="554.0" y1="192.0" x2="554.0" y2="205.0" stroke="#5a2ce0" stroke-opacity="0.30" stroke-width="3.6"/>
<line x1="564.0" y1="192.0" x2="564.0" y2="207.0" stroke="#9038f0" stroke-opacity="0.80" stroke-width="4.0"/>
<line x1="584.7" y1="198.0" x2="584.7" y2="210.0" stroke="#9038f0" stroke-opacity="0.80" stroke-width="4.0"/>
<line x1="604.8" y1="200.0" x2="604.8" y2="212.0" stroke="#5a2ce0" stroke-opacity="0.30" stroke-width="3.6"/>
<line x1="627.0" y1="205.0" x2="627.0" y2="210.0" stroke="#5a2ce0" stroke-opacity="0.30" stroke-width="3.6"/>
<line x1="351.0" y1="298.0" x2="354.0" y2="312.0" stroke="#9038f0" stroke-opacity="0.80" stroke-width="4.6"/>
<line x1="391.0" y1="294.0" x2="392.5" y2="307.5" stroke="#9038f0" stroke-opacity="0.80" stroke-width="4.6"/>
<line x1="427.0" y1="290.0" x2="426.0" y2="305.0" stroke="#5a2ce0" stroke-opacity="0.50" stroke-width="4.0"/>
<line x1="457.5" y1="290.0" x2="457.5" y2="303.0" stroke="#9038f0" stroke-opacity="0.80" stroke-width="4.0"/>
<line x1="321.0" y1="297.0" x2="321.0" y2="305.0" stroke="#5a2ce0" stroke-opacity="0.30" stroke-width="3.6"/>
<line x1="480.6" y1="290.5" x2="480.6" y2="302.0" stroke="#9038f0" stroke-opacity="0.80" stroke-width="4.0"/>
<line x1="492.5" y1="288.0" x2="492.5" y2="303.0" stroke="#5a2ce0" stroke-opacity="0.30" stroke-width="3.6"/>
<line x1="505.0" y1="290.0" x2="505.0" y2="303.0" stroke="#9038f0" stroke-opacity="0.80" stroke-width="4.0"/>
<line x1="516.0" y1="288.0" x2="516.0" y2="303.0" stroke="#5a2ce0" stroke-opacity="0.30" stroke-width="3.6"/>
<line x1="528.0" y1="290.0" x2="528.0" y2="303.0" stroke="#9038f0" stroke-opacity="0.80" stroke-width="4.0"/>
<line x1="539.7" y1="285.0" x2="539.7" y2="305.0" stroke="#5a2ce0" stroke-opacity="0.30" stroke-width="3.6"/>
<line x1="550.0" y1="293.0" x2="550.0" y2="303.0" stroke="#5a2ce0" stroke-opacity="0.30" stroke-width="3.6"/>
<line x1="567.0" y1="292.0" x2="567.0" y2="304.0" stroke="#5a2ce0" stroke-opacity="0.30" stroke-width="3.6"/>
<line x1="580.0" y1="294.0" x2="580.0" y2="306.0" stroke="#5a2ce0" stroke-opacity="0.30" stroke-width="3.6"/>
<line x1="586.0" y1="292.0" x2="586.0" y2="304.0" stroke="#5a2ce0" stroke-opacity="0.30" stroke-width="3.6"/>
<line x1="621.0" y1="303.0" x2="621.0" y2="307.0" stroke="#5a2ce0" stroke-opacity="0.50" stroke-width="4.0"/>
</g>
<g filter="url(#b1)" stroke-linecap="round" fill="none">
<line x1="327.5" y1="214.0" x2="330.5" y2="227.0" stroke="#6a38e8" stroke-opacity="0.95" stroke-width="2.2"/>
<line x1="356.0" y1="210.0" x2="354.5" y2="224.0" stroke="#6a38e8" stroke-opacity="0.95" stroke-width="2.2"/>
<line x1="361.0" y1="193.0" x2="361.0" y2="204.5" stroke="#ff78f8" stroke-opacity="1.00" stroke-width="3.2"/>
<line x1="379.4" y1="203.0" x2="379.4" y2="217.0" stroke="#4226c8" stroke-opacity="0.90" stroke-width="1.9"/>
<line x1="403.0" y1="187.5" x2="401.0" y2="202.0" stroke="#ff78f8" stroke-opacity="1.00" stroke-width="3.2"/>
<line x1="399.8" y1="203.0" x2="399.8" y2="209.0" stroke="#6a38e8" stroke-opacity="0.95" stroke-width="2.2"/>
<line x1="418.0" y1="200.0" x2="420.0" y2="214.0" stroke="#6a38e8" stroke-opacity="0.95" stroke-width="2.2"/>
<line x1="441.0" y1="185.0" x2="441.0" y2="196.0" stroke="#ff78f8" stroke-opacity="1.00" stroke-width="3.2"/>
<line x1="456.0" y1="203.0" x2="456.0" y2="211.0" stroke="#4226c8" stroke-opacity="0.90" stroke-width="1.9"/>
<line x1="468.7" y1="183.0" x2="468.7" y2="197.0" stroke="#6a38e8" stroke-opacity="0.95" stroke-width="2.2"/>
<line x1="494.8" y1="186.0" x2="494.8" y2="196.5" stroke="#ff78f8" stroke-opacity="1.00" stroke-width="3.2"/>
<line x1="519.6" y1="188.0" x2="519.6" y2="199.0" stroke="#f070ff" stroke-opacity="1.00" stroke-width="2.9"/>
<line x1="531.5" y1="191.0" x2="531.5" y2="204.0" stroke="#6a38e8" stroke-opacity="0.95" stroke-width="2.2"/>
<line x1="542.0" y1="193.0" x2="540.0" y2="204.0" stroke="#d860ff" stroke-opacity="1.00" stroke-width="2.6"/>
<line x1="554.0" y1="193.0" x2="554.0" y2="204.0" stroke="#6a38e8" stroke-opacity="0.95" stroke-width="2.2"/>
<line x1="564.0" y1="193.0" x2="564.0" y2="206.0" stroke="#d860ff" stroke-opacity="1.00" stroke-width="2.6"/>
<line x1="584.7" y1="199.0" x2="584.7" y2="209.0" stroke="#d860ff" stroke-opacity="1.00" stroke-width="2.6"/>
<line x1="604.8" y1="201.0" x2="604.8" y2="211.0" stroke="#6a38e8" stroke-opacity="0.95" stroke-width="2.2"/>
<line x1="627.0" y1="206.0" x2="627.0" y2="209.0" stroke="#6a38e8" stroke-opacity="0.95" stroke-width="2.2"/>
<line x1="351.0" y1="299.0" x2="354.0" y2="311.0" stroke="#ff78f8" stroke-opacity="1.00" stroke-width="3.2"/>
<line x1="391.0" y1="295.0" x2="392.5" y2="306.5" stroke="#ff78f8" stroke-opacity="1.00" stroke-width="3.2"/>
<line x1="427.0" y1="291.0" x2="426.0" y2="304.0" stroke="#a048f8" stroke-opacity="1.00" stroke-width="2.6"/>
<line x1="457.5" y1="291.0" x2="457.5" y2="302.0" stroke="#d860ff" stroke-opacity="1.00" stroke-width="2.6"/>
<line x1="347.0" y1="285.0" x2="347.0" y2="296.0" stroke="#2e1ca0" stroke-opacity="0.80" stroke-width="1.7"/>
<line x1="375.0" y1="283.0" x2="375.0" y2="294.0" stroke="#2e1ca0" stroke-opacity="0.80" stroke-width="1.7"/>
<line x1="321.0" y1="298.0" x2="321.0" y2="304.0" stroke="#6a38e8" stroke-opacity="0.95" stroke-width="2.2"/>
<line x1="440.7" y1="281.0" x2="440.7" y2="287.0" stroke="#2e1ca0" stroke-opacity="0.80" stroke-width="1.7"/>
<line x1="475.7" y1="281.0" x2="475.7" y2="286.0" stroke="#4226c8" stroke-opacity="0.90" stroke-width="1.9"/>
<line x1="480.6" y1="291.5" x2="480.6" y2="301.0" stroke="#d860ff" stroke-opacity="1.00" stroke-width="2.6"/>
<line x1="492.5" y1="289.0" x2="492.5" y2="302.0" stroke="#6a38e8" stroke-opacity="0.95" stroke-width="2.2"/>
<line x1="505.0" y1="291.0" x2="505.0" y2="302.0" stroke="#d860ff" stroke-opacity="1.00" stroke-width="2.6"/>
<line x1="516.0" y1="289.0" x2="516.0" y2="302.0" stroke="#6a38e8" stroke-opacity="0.95" stroke-width="2.2"/>
<line x1="528.0" y1="291.0" x2="528.0" y2="302.0" stroke="#d860ff" stroke-opacity="1.00" stroke-width="2.6"/>
<line x1="539.7" y1="286.0" x2="539.7" y2="304.0" stroke="#6a38e8" stroke-opacity="0.95" stroke-width="2.2"/>
<line x1="550.0" y1="294.0" x2="550.0" y2="302.0" stroke="#6a38e8" stroke-opacity="0.95" stroke-width="2.2"/>
<line x1="567.0" y1="293.0" x2="567.0" y2="303.0" stroke="#6a38e8" stroke-opacity="0.95" stroke-width="2.2"/>
<line x1="580.0" y1="295.0" x2="580.0" y2="305.0" stroke="#6a38e8" stroke-opacity="0.95" stroke-width="2.2"/>
<line x1="586.0" y1="293.0" x2="586.0" y2="303.0" stroke="#6a38e8" stroke-opacity="0.95" stroke-width="2.2"/>
<line x1="604.8" y1="297.0" x2="604.8" y2="303.0" stroke="#4226c8" stroke-opacity="0.90" stroke-width="1.9"/>
<line x1="621.0" y1="304.0" x2="621.0" y2="306.0" stroke="#a048f8" stroke-opacity="1.00" stroke-width="2.6"/>
</g>
<g filter="url(#b05)" stroke-linecap="round" fill="none">
<line x1="361.0" y1="194.7" x2="361.0" y2="201.1" stroke="#ffd2f2" stroke-width="1.9"/>
<line x1="402.7" y1="189.7" x2="401.6" y2="197.7" stroke="#ffd2f2" stroke-width="1.9"/>
<line x1="441.0" y1="186.7" x2="441.0" y2="192.7" stroke="#ffd2f2" stroke-width="1.9"/>
<line x1="494.8" y1="187.6" x2="494.8" y2="193.3" stroke="#ffd2f2" stroke-width="1.9"/>
<line x1="519.6" y1="189.7" x2="519.6" y2="195.7" stroke="#ffd2f2" stroke-width="1.3"/>
<line x1="351.4" y1="300.8" x2="353.1" y2="307.4" stroke="#ffd2f2" stroke-width="1.9"/>
<line x1="391.2" y1="296.7" x2="392.1" y2="303.1" stroke="#ffd2f2" stroke-width="1.9"/>
</g>
<rect x="427.5" y="178.0" width="119.5" height="37.5" fill="none" stroke="#ee625a" stroke-width="1.35" stroke-dasharray="3.7 2.2"/>
<rect x="421.0" y="278.4" width="119.2" height="38.4" fill="none" stroke="#ee625a" stroke-width="1.35" stroke-dasharray="3.7 2.2"/>
<path d="M621.3 326.4 L614.2 309.4 Q621.3 313.1 628.0 309.4 Z" fill="#e8391c"/>
<rect x="325.0" y="324.0" width="93.5" height="3.5" fill="#fff"/>
<text x="327.0" y="200.4" font-size="29" font-weight="bold" fill="#fff">d</text>
<text x="627.5" y="191.0" font-size="20" fill="#fff" text-anchor="end">eBL 150&#8242;</text>
</g></g>
<rect x="660.8" y="82.5" width="7.8" height="162.2" fill="url(#cbar)"/>
<text x="648.6" y="61.9" font-size="18" fill="#000">Max.</text>
<text x="650.6" y="268.1" font-size="18" fill="#000">Min.</text>
<text x="8" y="382" font-size="29" font-weight="bold" fill="#000">e</text>
<rect x="131.5" y="374.3" width="15.5" height="15.5" fill="#6a6a6a" stroke="#222" stroke-width="1"/>
<rect x="131.5" y="400.8" width="15.5" height="15.5" fill="#e6e6e6" stroke="#222" stroke-width="1"/>
<text x="156.5" y="385.5" font-size="17.3" fill="#000"><tspan font-style="italic">eir1&#8211;4 PIN2p</tspan>::<tspan font-style="italic">PIN2</tspan>:<tspan font-style="italic">VEN</tspan></text>
<text x="156.5" y="412.5" font-size="17.3" fill="#000"><tspan font-style="italic">eir1&#8211;4 PIN2p</tspan>::<tspan font-style="italic">PIN2</tspan>:<tspan font-style="italic">VEN</tspan> eBL</text>
<text x="123.5" y="904.4" font-size="19.8" text-anchor="end" fill="#000">0.2</text>
<text x="123.5" y="859.0" font-size="19.8" text-anchor="end" fill="#000">0.4</text>
<text x="123.5" y="813.5" font-size="19.8" text-anchor="end" fill="#000">0.6</text>
<text x="123.5" y="768.1" font-size="19.8" text-anchor="end" fill="#000">0.8</text>
<text x="123.5" y="722.6" font-size="19.8" text-anchor="end" fill="#000">1.0</text>
<text x="123.5" y="677.1" font-size="19.8" text-anchor="end" fill="#000">1.2</text>
<text x="123.5" y="631.7" font-size="19.8" text-anchor="end" fill="#000">1.4</text>
<text x="123.5" y="586.2" font-size="19.8" text-anchor="end" fill="#000">1.6</text>
<text x="123.5" y="540.8" font-size="19.8" text-anchor="end" fill="#000">1.8</text>
<text x="123.5" y="495.3" font-size="19.8" text-anchor="end" fill="#000">2.0</text>
<text x="123.5" y="449.8" font-size="19.8" text-anchor="end" fill="#000">2.2</text>
<text x="123.5" y="949.9" font-size="19.8" text-anchor="end" fill="#000">0</text>
<line x1="132" y1="431" x2="132" y2="944.5" stroke="#222" stroke-width="1.6"/>
<line x1="131.2" y1="943.8" x2="639" y2="943.8" stroke="#222" stroke-width="1.6"/>
<text transform="translate(74.3,670.5) rotate(-90)" font-size="19.9" text-anchor="middle" fill="#000">Signal ratio upper/lower side</text>
<text x="385.6" y="969.7" font-size="19.9" text-anchor="middle" fill="#000">Gravistimulation</text>
<text x="168.5" y="934.4" font-size="20" text-anchor="middle" fill="#000">0&#8242;</text>
<text x="240.7" y="934.4" font-size="20" text-anchor="middle" fill="#000">30&#8242;</text>
<text x="312.9" y="934.4" font-size="20" text-anchor="middle" fill="#000">90&#8242;</text>
<text x="385.1" y="934.4" font-size="20" text-anchor="middle" fill="#000">150&#8242;</text>
<text x="457.3" y="934.4" font-size="20" text-anchor="middle" fill="#000">240&#8242;</text>
<text x="529.5" y="934.4" font-size="20" text-anchor="middle" fill="#000">300&#8242;</text>
<text x="601.7" y="934.4" font-size="20" text-anchor="middle" fill="#000">480&#8242;</text>
<text x="312.5" y="894.8" font-size="16.3" text-anchor="middle" fill="#000"><tspan font-style="italic">p</tspan> &lt; 0.01</text>
<text x="384.5" y="879" font-size="16.3" text-anchor="middle" fill="#000"><tspan font-style="italic">p</tspan> &lt; 0.01</text>
<line x1="152.4" y1="547.0" x2="152.4" y2="802.0" stroke="#111" stroke-width="1.3"/>
<line x1="146.9" y1="547.0" x2="157.9" y2="547.0" stroke="#111" stroke-width="1.2"/>
<line x1="146.9" y1="802.0" x2="157.9" y2="802.0" stroke="#111" stroke-width="1.2"/>
<rect x="141.9" y="696.5" width="21" height="36.5" fill="#646464" stroke="#111" stroke-width="1.1"/>
<line x1="141.9" y1="723.0" x2="162.9" y2="723.0" stroke="#111" stroke-width="1.1"/>
<g fill="#000"><ellipse cx="152.4" cy="547.0" rx="2.25" ry="2.9"/><ellipse cx="152.4" cy="565.8" rx="2.25" ry="2.9"/><ellipse cx="152.4" cy="617.0" rx="2.25" ry="2.9"/><ellipse cx="152.4" cy="623.0" rx="2.25" ry="2.9"/><ellipse cx="152.4" cy="644.6" rx="2.25" ry="2.9"/><ellipse cx="152.4" cy="652.0" rx="2.25" ry="2.9"/><ellipse cx="153.5" cy="672.3" rx="2.25" ry="2.9"/><ellipse cx="151.7" cy="676.6" rx="2.25" ry="2.9"/><ellipse cx="152.4" cy="682.8" rx="2.25" ry="2.9"/><ellipse cx="152.4" cy="690.8" rx="2.25" ry="2.9"/><ellipse cx="154.7" cy="700.0" rx="2.25" ry="2.9"/><ellipse cx="148.0" cy="703.0" rx="2.25" ry="2.9"/><ellipse cx="156.0" cy="707.4" rx="2.25" ry="2.9"/><ellipse cx="148.6" cy="710.0" rx="2.25" ry="2.9"/><ellipse cx="151.7" cy="711.7" rx="2.25" ry="2.9"/><ellipse cx="146.1" cy="715.4" rx="2.25" ry="2.9"/><ellipse cx="157.8" cy="714.8" rx="2.25" ry="2.9"/><ellipse cx="153.5" cy="717.9" rx="2.25" ry="2.9"/><ellipse cx="147.4" cy="719.0" rx="2.25" ry="2.9"/><ellipse cx="158.4" cy="718.5" rx="2.25" ry="2.9"/><ellipse cx="151.0" cy="722.8" rx="2.25" ry="2.9"/><ellipse cx="155.4" cy="723.4" rx="2.25" ry="2.9"/><ellipse cx="148.6" cy="727.0" rx="2.25" ry="2.9"/><ellipse cx="153.4" cy="727.0" rx="2.25" ry="2.9"/><ellipse cx="151.0" cy="731.4" rx="2.25" ry="2.9"/><ellipse cx="156.0" cy="730.8" rx="2.25" ry="2.9"/><ellipse cx="143.7" cy="733.2" rx="2.25" ry="2.9"/><ellipse cx="146.7" cy="734.5" rx="2.25" ry="2.9"/><ellipse cx="160.9" cy="734.5" rx="2.25" ry="2.9"/><ellipse cx="158.4" cy="735.0" rx="2.25" ry="2.9"/><ellipse cx="153.4" cy="735.0" rx="2.25" ry="2.9"/><ellipse cx="148.6" cy="737.6" rx="2.25" ry="2.9"/><ellipse cx="156.0" cy="738.2" rx="2.25" ry="2.9"/><ellipse cx="152.4" cy="746.8" rx="2.25" ry="2.9"/><ellipse cx="145.5" cy="755.4" rx="2.25" ry="2.9"/><ellipse cx="148.6" cy="757.9" rx="2.25" ry="2.9"/><ellipse cx="151.7" cy="757.9" rx="2.25" ry="2.9"/><ellipse cx="154.7" cy="757.9" rx="2.25" ry="2.9"/><ellipse cx="157.8" cy="758.5" rx="2.25" ry="2.9"/><ellipse cx="159.0" cy="759.7" rx="2.25" ry="2.9"/><ellipse cx="153.4" cy="765.9" rx="2.25" ry="2.9"/><ellipse cx="152.4" cy="802.0" rx="2.25" ry="2.9"/></g>
<line x1="182.1" y1="436.0" x2="182.1" y2="770.5" stroke="#111" stroke-width="1.3"/>
<line x1="176.6" y1="436.0" x2="187.6" y2="436.0" stroke="#111" stroke-width="1.2"/>
<line x1="176.6" y1="770.5" x2="187.6" y2="770.5" stroke="#111" stroke-width="1.2"/>
<rect x="171.6" y="678.8" width="21" height="38.2" fill="#e2e2e2" stroke="#111" stroke-width="1.1"/>
<line x1="171.6" y1="708.0" x2="192.6" y2="708.0" stroke="#111" stroke-width="1.1"/>
<g fill="#000"><ellipse cx="182.1" cy="436.0" rx="2.25" ry="2.9"/><ellipse cx="182.1" cy="510.3" rx="2.25" ry="2.9"/><ellipse cx="182.1" cy="528.3" rx="2.25" ry="2.9"/><ellipse cx="182.1" cy="560.0" rx="2.25" ry="2.9"/><ellipse cx="182.1" cy="628.5" rx="2.25" ry="2.9"/><ellipse cx="182.1" cy="637.0" rx="2.25" ry="2.9"/><ellipse cx="182.1" cy="646.0" rx="2.25" ry="2.9"/><ellipse cx="182.7" cy="665.2" rx="2.25" ry="2.9"/><ellipse cx="181.7" cy="667.2" rx="2.25" ry="2.9"/><ellipse cx="181.2" cy="674.8" rx="2.25" ry="2.9"/><ellipse cx="178.1" cy="679.7" rx="2.25" ry="2.9"/><ellipse cx="185.5" cy="679.7" rx="2.25" ry="2.9"/><ellipse cx="181.8" cy="685.9" rx="2.25" ry="2.9"/><ellipse cx="183.0" cy="690.8" rx="2.25" ry="2.9"/><ellipse cx="186.1" cy="697.5" rx="2.25" ry="2.9"/><ellipse cx="180.6" cy="701.9" rx="2.25" ry="2.9"/><ellipse cx="189.8" cy="701.9" rx="2.25" ry="2.9"/><ellipse cx="187.3" cy="703.7" rx="2.25" ry="2.9"/><ellipse cx="173.2" cy="706.8" rx="2.25" ry="2.9"/><ellipse cx="176.2" cy="706.8" rx="2.25" ry="2.9"/><ellipse cx="181.2" cy="707.4" rx="2.25" ry="2.9"/><ellipse cx="185.5" cy="707.4" rx="2.25" ry="2.9"/><ellipse cx="191.0" cy="708.6" rx="2.25" ry="2.9"/><ellipse cx="183.6" cy="710.5" rx="2.25" ry="2.9"/><ellipse cx="178.1" cy="712.9" rx="2.25" ry="2.9"/><ellipse cx="187.9" cy="712.3" rx="2.25" ry="2.9"/><ellipse cx="181.2" cy="714.8" rx="2.25" ry="2.9"/><ellipse cx="184.9" cy="715.4" rx="2.25" ry="2.9"/><ellipse cx="176.2" cy="719.0" rx="2.25" ry="2.9"/><ellipse cx="189.1" cy="719.0" rx="2.25" ry="2.9"/><ellipse cx="178.7" cy="721.5" rx="2.25" ry="2.9"/><ellipse cx="184.2" cy="721.0" rx="2.25" ry="2.9"/><ellipse cx="188.6" cy="723.4" rx="2.25" ry="2.9"/><ellipse cx="175.1" cy="725.2" rx="2.25" ry="2.9"/><ellipse cx="181.2" cy="725.9" rx="2.25" ry="2.9"/><ellipse cx="183.6" cy="738.2" rx="2.25" ry="2.9"/><ellipse cx="180.6" cy="743.7" rx="2.25" ry="2.9"/><ellipse cx="181.8" cy="752.3" rx="2.25" ry="2.9"/><ellipse cx="182.1" cy="770.4" rx="2.25" ry="2.9"/></g>
<line x1="224.6" y1="683.7" x2="224.6" y2="752.4" stroke="#111" stroke-width="1.3"/>
<line x1="219.1" y1="683.7" x2="230.1" y2="683.7" stroke="#111" stroke-width="1.2"/>
<line x1="219.1" y1="752.4" x2="230.1" y2="752.4" stroke="#111" stroke-width="1.2"/>
<rect x="214.1" y="714.9" width="21" height="16.1" fill="#646464" stroke="#111" stroke-width="1.1"/>
<line x1="214.1" y1="722.0" x2="235.1" y2="722.0" stroke="#111" stroke-width="1.1"/>
<g fill="#000"><ellipse cx="224.6" cy="683.2" rx="2.25" ry="2.9"/><ellipse cx="223.4" cy="692.4" rx="2.25" ry="2.9"/><ellipse cx="225.4" cy="695.0" rx="2.25" ry="2.9"/><ellipse cx="218.3" cy="710.8" rx="2.25" ry="2.9"/><ellipse cx="220.3" cy="710.8" rx="2.25" ry="2.9"/><ellipse cx="228.5" cy="710.8" rx="2.25" ry="2.9"/><ellipse cx="225.4" cy="737.3" rx="2.25" ry="2.9"/><ellipse cx="223.4" cy="742.4" rx="2.25" ry="2.9"/><ellipse cx="224.9" cy="745.5" rx="2.25" ry="2.9"/><ellipse cx="224.6" cy="752.4" rx="2.25" ry="2.9"/><ellipse cx="223.6" cy="718.5" rx="2.25" ry="2.9"/><ellipse cx="227.6" cy="718.5" rx="2.25" ry="2.9"/><ellipse cx="215.6" cy="721.5" rx="2.25" ry="2.9"/><ellipse cx="222.6" cy="721.5" rx="2.25" ry="2.9"/><ellipse cx="226.6" cy="721.5" rx="2.25" ry="2.9"/><ellipse cx="233.6" cy="721.5" rx="2.25" ry="2.9"/><ellipse cx="215.1" cy="725.0" rx="2.25" ry="2.9"/><ellipse cx="219.1" cy="725.0" rx="2.25" ry="2.9"/><ellipse cx="223.1" cy="725.0" rx="2.25" ry="2.9"/><ellipse cx="227.1" cy="725.0" rx="2.25" ry="2.9"/><ellipse cx="234.1" cy="725.0" rx="2.25" ry="2.9"/><ellipse cx="217.1" cy="728.5" rx="2.25" ry="2.9"/><ellipse cx="221.1" cy="728.5" rx="2.25" ry="2.9"/><ellipse cx="225.1" cy="728.5" rx="2.25" ry="2.9"/><ellipse cx="229.1" cy="728.5" rx="2.25" ry="2.9"/><ellipse cx="233.6" cy="728.5" rx="2.25" ry="2.9"/><ellipse cx="215.1" cy="732.0" rx="2.25" ry="2.9"/><ellipse cx="219.6" cy="732.0" rx="2.25" ry="2.9"/><ellipse cx="223.6" cy="732.0" rx="2.25" ry="2.9"/><ellipse cx="227.6" cy="732.0" rx="2.25" ry="2.9"/><ellipse cx="231.6" cy="732.0" rx="2.25" ry="2.9"/><ellipse cx="221.6" cy="735.0" rx="2.25" ry="2.9"/><ellipse cx="225.6" cy="735.0" rx="2.25" ry="2.9"/><ellipse cx="229.1" cy="735.0" rx="2.25" ry="2.9"/></g>
<line x1="254.3" y1="697.0" x2="254.3" y2="725.0" stroke="#111" stroke-width="1.3"/>
<rect x="243.8" y="707.2" width="21" height="11.2" fill="#e2e2e2" stroke="#111" stroke-width="1.1"/>
<line x1="243.8" y1="712.5" x2="264.8" y2="712.5" stroke="#111" stroke-width="1.1"/>
<g fill="#000"><ellipse cx="251.5" cy="696.0" rx="2.25" ry="2.9"/><ellipse cx="257.1" cy="698.0" rx="2.25" ry="2.9"/><ellipse cx="259.3" cy="698.0" rx="2.25" ry="2.9"/><ellipse cx="247.4" cy="704.6" rx="2.25" ry="2.9"/><ellipse cx="263.2" cy="704.6" rx="2.25" ry="2.9"/><ellipse cx="260.7" cy="706.7" rx="2.25" ry="2.9"/><ellipse cx="258.1" cy="725.0" rx="2.25" ry="2.9"/><ellipse cx="245.3" cy="709.5" rx="2.25" ry="2.9"/><ellipse cx="252.8" cy="709.5" rx="2.25" ry="2.9"/><ellipse cx="256.8" cy="709.5" rx="2.25" ry="2.9"/><ellipse cx="244.3" cy="712.5" rx="2.25" ry="2.9"/><ellipse cx="247.8" cy="712.5" rx="2.25" ry="2.9"/><ellipse cx="251.3" cy="712.5" rx="2.25" ry="2.9"/><ellipse cx="255.3" cy="712.5" rx="2.25" ry="2.9"/><ellipse cx="259.3" cy="712.5" rx="2.25" ry="2.9"/><ellipse cx="263.3" cy="712.5" rx="2.25" ry="2.9"/><ellipse cx="246.3" cy="715.5" rx="2.25" ry="2.9"/><ellipse cx="250.3" cy="715.5" rx="2.25" ry="2.9"/><ellipse cx="254.3" cy="715.5" rx="2.25" ry="2.9"/><ellipse cx="262.8" cy="715.5" rx="2.25" ry="2.9"/><ellipse cx="247.3" cy="722.0" rx="2.25" ry="2.9"/><ellipse cx="250.8" cy="722.0" rx="2.25" ry="2.9"/><ellipse cx="254.3" cy="722.0" rx="2.25" ry="2.9"/><ellipse cx="257.3" cy="722.0" rx="2.25" ry="2.9"/><ellipse cx="260.3" cy="722.0" rx="2.25" ry="2.9"/></g>
<line x1="296.8" y1="655.0" x2="296.8" y2="851.3" stroke="#111" stroke-width="1.3"/>
<line x1="291.3" y1="655.0" x2="302.3" y2="655.0" stroke="#111" stroke-width="1.2"/>
<line x1="291.3" y1="851.3" x2="302.3" y2="851.3" stroke="#111" stroke-width="1.2"/>
<rect x="286.3" y="717.5" width="21" height="64.1" fill="#646464" stroke="#111" stroke-width="1.1"/>
<line x1="286.3" y1="737.2" x2="307.3" y2="737.2" stroke="#111" stroke-width="1.1"/>
<g fill="#000"><ellipse cx="296.8" cy="655.0" rx="2.25" ry="2.9"/><ellipse cx="298.5" cy="696.0" rx="2.25" ry="2.9"/><ellipse cx="295.4" cy="700.3" rx="2.25" ry="2.9"/><ellipse cx="298.5" cy="702.8" rx="2.25" ry="2.9"/><ellipse cx="291.1" cy="709.5" rx="2.25" ry="2.9"/><ellipse cx="302.2" cy="712.0" rx="2.25" ry="2.9"/><ellipse cx="291.1" cy="715.7" rx="2.25" ry="2.9"/><ellipse cx="287.4" cy="720.0" rx="2.25" ry="2.9"/><ellipse cx="291.7" cy="720.0" rx="2.25" ry="2.9"/><ellipse cx="295.4" cy="720.0" rx="2.25" ry="2.9"/><ellipse cx="302.8" cy="720.0" rx="2.25" ry="2.9"/><ellipse cx="305.8" cy="720.0" rx="2.25" ry="2.9"/><ellipse cx="288.0" cy="724.0" rx="2.25" ry="2.9"/><ellipse cx="292.3" cy="724.0" rx="2.25" ry="2.9"/><ellipse cx="296.0" cy="724.0" rx="2.25" ry="2.9"/><ellipse cx="299.7" cy="724.0" rx="2.25" ry="2.9"/><ellipse cx="286.8" cy="727.4" rx="2.25" ry="2.9"/><ellipse cx="291.1" cy="727.4" rx="2.25" ry="2.9"/><ellipse cx="295.4" cy="727.4" rx="2.25" ry="2.9"/><ellipse cx="302.2" cy="727.4" rx="2.25" ry="2.9"/><ellipse cx="306.5" cy="727.4" rx="2.25" ry="2.9"/><ellipse cx="292.3" cy="730.5" rx="2.25" ry="2.9"/><ellipse cx="296.8" cy="730.5" rx="2.25" ry="2.9"/><ellipse cx="300.9" cy="730.5" rx="2.25" ry="2.9"/><ellipse cx="294.8" cy="734.0" rx="2.25" ry="2.9"/><ellipse cx="299.1" cy="734.0" rx="2.25" ry="2.9"/><ellipse cx="302.8" cy="734.0" rx="2.25" ry="2.9"/><ellipse cx="291.1" cy="737.0" rx="2.25" ry="2.9"/><ellipse cx="296.8" cy="737.0" rx="2.25" ry="2.9"/><ellipse cx="302.2" cy="737.0" rx="2.25" ry="2.9"/><ellipse cx="295.4" cy="741.6" rx="2.25" ry="2.9"/><ellipse cx="298.5" cy="741.6" rx="2.25" ry="2.9"/><ellipse cx="294.8" cy="748.3" rx="2.25" ry="2.9"/><ellipse cx="298.5" cy="748.3" rx="2.25" ry="2.9"/><ellipse cx="296.8" cy="755.0" rx="2.25" ry="2.9"/><ellipse cx="291.1" cy="769.3" rx="2.25" ry="2.9"/><ellipse cx="294.8" cy="769.3" rx="2.25" ry="2.9"/><ellipse cx="298.5" cy="769.3" rx="2.25" ry="2.9"/><ellipse cx="302.2" cy="766.8" rx="2.25" ry="2.9"/><ellipse cx="302.2" cy="774.2" rx="2.25" ry="2.9"/><ellipse cx="294.8" cy="782.8" rx="2.25" ry="2.9"/><ellipse cx="298.5" cy="782.8" rx="2.25" ry="2.9"/><ellipse cx="296.8" cy="794.0" rx="2.25" ry="2.9"/><ellipse cx="298.5" cy="800.2" rx="2.25" ry="2.9"/><ellipse cx="294.8" cy="802.6" rx="2.25" ry="2.9"/><ellipse cx="298.5" cy="810.6" rx="2.25" ry="2.9"/><ellipse cx="294.8" cy="812.5" rx="2.25" ry="2.9"/><ellipse cx="296.8" cy="821.7" rx="2.25" ry="2.9"/><ellipse cx="296.8" cy="827.9" rx="2.25" ry="2.9"/><ellipse cx="296.8" cy="844.5" rx="2.25" ry="2.9"/><ellipse cx="296.8" cy="851.6" rx="2.25" ry="2.9"/></g>
<line x1="326.5" y1="603.0" x2="326.5" y2="817.4" stroke="#111" stroke-width="1.3"/>
<line x1="321.0" y1="603.0" x2="332.0" y2="603.0" stroke="#111" stroke-width="1.2"/>
<line x1="321.0" y1="817.4" x2="332.0" y2="817.4" stroke="#111" stroke-width="1.2"/>
<rect x="316.0" y="704.6" width="21" height="16.0" fill="#e2e2e2" stroke="#111" stroke-width="1.1"/>
<line x1="316.0" y1="714.0" x2="337.0" y2="714.0" stroke="#111" stroke-width="1.1"/>
<g fill="#000"><ellipse cx="326.5" cy="603.0" rx="2.25" ry="2.9"/><ellipse cx="325.5" cy="669.5" rx="2.25" ry="2.9"/><ellipse cx="327.7" cy="672.5" rx="2.25" ry="2.9"/><ellipse cx="325.5" cy="680.0" rx="2.25" ry="2.9"/><ellipse cx="327.5" cy="689.2" rx="2.25" ry="2.9"/><ellipse cx="325.5" cy="694.2" rx="2.25" ry="2.9"/><ellipse cx="327.5" cy="696.0" rx="2.25" ry="2.9"/><ellipse cx="322.5" cy="700.3" rx="2.25" ry="2.9"/><ellipse cx="327.5" cy="702.8" rx="2.25" ry="2.9"/><ellipse cx="317.0" cy="706.5" rx="2.25" ry="2.9"/><ellipse cx="320.5" cy="706.5" rx="2.25" ry="2.9"/><ellipse cx="324.0" cy="706.5" rx="2.25" ry="2.9"/><ellipse cx="327.5" cy="706.5" rx="2.25" ry="2.9"/><ellipse cx="331.0" cy="706.5" rx="2.25" ry="2.9"/><ellipse cx="317.5" cy="710.2" rx="2.25" ry="2.9"/><ellipse cx="321.5" cy="710.2" rx="2.25" ry="2.9"/><ellipse cx="325.5" cy="710.2" rx="2.25" ry="2.9"/><ellipse cx="329.5" cy="710.2" rx="2.25" ry="2.9"/><ellipse cx="333.0" cy="710.2" rx="2.25" ry="2.9"/><ellipse cx="336.0" cy="710.2" rx="2.25" ry="2.9"/><ellipse cx="317.0" cy="713.9" rx="2.25" ry="2.9"/><ellipse cx="320.5" cy="713.9" rx="2.25" ry="2.9"/><ellipse cx="324.5" cy="713.9" rx="2.25" ry="2.9"/><ellipse cx="328.5" cy="713.9" rx="2.25" ry="2.9"/><ellipse cx="332.0" cy="713.9" rx="2.25" ry="2.9"/><ellipse cx="335.5" cy="713.9" rx="2.25" ry="2.9"/><ellipse cx="317.5" cy="719.4" rx="2.25" ry="2.9"/><ellipse cx="321.9" cy="719.4" rx="2.25" ry="2.9"/><ellipse cx="326.5" cy="719.4" rx="2.25" ry="2.9"/><ellipse cx="330.5" cy="719.4" rx="2.25" ry="2.9"/><ellipse cx="334.8" cy="719.4" rx="2.25" ry="2.9"/><ellipse cx="322.5" cy="723.0" rx="2.25" ry="2.9"/><ellipse cx="328.5" cy="723.0" rx="2.25" ry="2.9"/><ellipse cx="332.9" cy="723.0" rx="2.25" ry="2.9"/><ellipse cx="324.9" cy="726.2" rx="2.25" ry="2.9"/><ellipse cx="330.5" cy="726.2" rx="2.25" ry="2.9"/><ellipse cx="324.9" cy="729.2" rx="2.25" ry="2.9"/><ellipse cx="329.9" cy="729.2" rx="2.25" ry="2.9"/><ellipse cx="326.5" cy="751.4" rx="2.25" ry="2.9"/><ellipse cx="326.5" cy="767.4" rx="2.25" ry="2.9"/><ellipse cx="326.5" cy="817.4" rx="2.25" ry="2.9"/></g>
<line x1="369.0" y1="652.0" x2="369.0" y2="834.4" stroke="#111" stroke-width="1.3"/>
<line x1="363.5" y1="652.0" x2="374.5" y2="652.0" stroke="#111" stroke-width="1.2"/>
<line x1="363.5" y1="834.4" x2="374.5" y2="834.4" stroke="#111" stroke-width="1.2"/>
<rect x="358.5" y="723.5" width="21" height="74.0" fill="#646464" stroke="#111" stroke-width="1.1"/>
<line x1="358.5" y1="757.9" x2="379.5" y2="757.9" stroke="#111" stroke-width="1.1"/>
<g fill="#000"><ellipse cx="366.8" cy="652.0" rx="2.25" ry="2.9"/><ellipse cx="371.1" cy="652.0" rx="2.25" ry="2.9"/><ellipse cx="369.0" cy="673.2" rx="2.25" ry="2.9"/><ellipse cx="369.0" cy="683.5" rx="2.25" ry="2.9"/><ellipse cx="363.1" cy="690.2" rx="2.25" ry="2.9"/><ellipse cx="367.4" cy="693.0" rx="2.25" ry="2.9"/><ellipse cx="370.5" cy="694.8" rx="2.25" ry="2.9"/><ellipse cx="369.0" cy="704.4" rx="2.25" ry="2.9"/><ellipse cx="369.0" cy="715.1" rx="2.25" ry="2.9"/><ellipse cx="365.0" cy="725.0" rx="2.25" ry="2.9"/><ellipse cx="369.0" cy="725.0" rx="2.25" ry="2.9"/><ellipse cx="372.7" cy="725.0" rx="2.25" ry="2.9"/><ellipse cx="366.8" cy="734.2" rx="2.25" ry="2.9"/><ellipse cx="370.5" cy="734.2" rx="2.25" ry="2.9"/><ellipse cx="363.1" cy="740.8" rx="2.25" ry="2.9"/><ellipse cx="374.2" cy="740.8" rx="2.25" ry="2.9"/><ellipse cx="366.8" cy="745.2" rx="2.25" ry="2.9"/><ellipse cx="370.5" cy="749.7" rx="2.25" ry="2.9"/><ellipse cx="363.1" cy="756.5" rx="2.25" ry="2.9"/><ellipse cx="366.8" cy="758.5" rx="2.25" ry="2.9"/><ellipse cx="374.2" cy="759.0" rx="2.25" ry="2.9"/><ellipse cx="370.5" cy="764.0" rx="2.25" ry="2.9"/><ellipse cx="369.0" cy="770.2" rx="2.25" ry="2.9"/><ellipse cx="363.5" cy="777.0" rx="2.25" ry="2.9"/><ellipse cx="374.5" cy="777.0" rx="2.25" ry="2.9"/><ellipse cx="366.8" cy="781.9" rx="2.25" ry="2.9"/><ellipse cx="366.8" cy="794.8" rx="2.25" ry="2.9"/><ellipse cx="370.5" cy="794.8" rx="2.25" ry="2.9"/><ellipse cx="363.1" cy="797.9" rx="2.25" ry="2.9"/><ellipse cx="374.8" cy="797.9" rx="2.25" ry="2.9"/><ellipse cx="378.5" cy="797.9" rx="2.25" ry="2.9"/><ellipse cx="359.4" cy="800.3" rx="2.25" ry="2.9"/><ellipse cx="366.8" cy="799.5" rx="2.25" ry="2.9"/><ellipse cx="370.5" cy="799.5" rx="2.25" ry="2.9"/><ellipse cx="366.8" cy="802.8" rx="2.25" ry="2.9"/><ellipse cx="370.5" cy="802.8" rx="2.25" ry="2.9"/><ellipse cx="374.2" cy="802.8" rx="2.25" ry="2.9"/><ellipse cx="366.8" cy="820.6" rx="2.25" ry="2.9"/><ellipse cx="370.5" cy="825.0" rx="2.25" ry="2.9"/><ellipse cx="369.0" cy="834.4" rx="2.25" ry="2.9"/></g>
<line x1="398.7" y1="450.3" x2="398.7" y2="806.1" stroke="#111" stroke-width="1.3"/>
<line x1="393.2" y1="450.3" x2="404.2" y2="450.3" stroke="#111" stroke-width="1.2"/>
<line x1="393.2" y1="806.1" x2="404.2" y2="806.1" stroke="#111" stroke-width="1.2"/>
<rect x="388.2" y="695.4" width="21" height="35.9" fill="#e2e2e2" stroke="#111" stroke-width="1.1"/>
<line x1="388.2" y1="711.2" x2="409.2" y2="711.2" stroke="#111" stroke-width="1.1"/>
<g fill="#000"><ellipse cx="398.7" cy="450.3" rx="2.25" ry="2.9"/><ellipse cx="398.7" cy="520.8" rx="2.25" ry="2.9"/><ellipse cx="398.7" cy="591.5" rx="2.25" ry="2.9"/><ellipse cx="398.7" cy="600.8" rx="2.25" ry="2.9"/><ellipse cx="398.7" cy="625.4" rx="2.25" ry="2.9"/><ellipse cx="398.7" cy="637.0" rx="2.25" ry="2.9"/><ellipse cx="400.4" cy="673.9" rx="2.25" ry="2.9"/><ellipse cx="398.5" cy="678.2" rx="2.25" ry="2.9"/><ellipse cx="400.4" cy="685.0" rx="2.25" ry="2.9"/><ellipse cx="396.9" cy="689.2" rx="2.25" ry="2.9"/><ellipse cx="400.4" cy="693.6" rx="2.25" ry="2.9"/><ellipse cx="397.5" cy="697.2" rx="2.25" ry="2.9"/><ellipse cx="400.6" cy="700.3" rx="2.25" ry="2.9"/><ellipse cx="396.7" cy="704.0" rx="2.25" ry="2.9"/><ellipse cx="389.5" cy="707.7" rx="2.25" ry="2.9"/><ellipse cx="392.6" cy="707.7" rx="2.25" ry="2.9"/><ellipse cx="398.7" cy="707.7" rx="2.25" ry="2.9"/><ellipse cx="406.2" cy="707.7" rx="2.25" ry="2.9"/><ellipse cx="408.6" cy="707.7" rx="2.25" ry="2.9"/><ellipse cx="394.5" cy="712.0" rx="2.25" ry="2.9"/><ellipse cx="398.7" cy="712.0" rx="2.25" ry="2.9"/><ellipse cx="402.5" cy="712.0" rx="2.25" ry="2.9"/><ellipse cx="396.7" cy="716.3" rx="2.25" ry="2.9"/><ellipse cx="394.5" cy="724.3" rx="2.25" ry="2.9"/><ellipse cx="398.7" cy="724.3" rx="2.25" ry="2.9"/><ellipse cx="402.5" cy="724.3" rx="2.25" ry="2.9"/><ellipse cx="394.5" cy="731.0" rx="2.25" ry="2.9"/><ellipse cx="398.2" cy="731.0" rx="2.25" ry="2.9"/><ellipse cx="402.5" cy="733.0" rx="2.25" ry="2.9"/><ellipse cx="398.7" cy="739.9" rx="2.25" ry="2.9"/><ellipse cx="396.7" cy="746.8" rx="2.25" ry="2.9"/><ellipse cx="400.6" cy="748.5" rx="2.25" ry="2.9"/><ellipse cx="396.7" cy="755.5" rx="2.25" ry="2.9"/><ellipse cx="398.7" cy="758.5" rx="2.25" ry="2.9"/><ellipse cx="398.7" cy="765.2" rx="2.25" ry="2.9"/><ellipse cx="400.6" cy="785.0" rx="2.25" ry="2.9"/><ellipse cx="398.2" cy="789.9" rx="2.25" ry="2.9"/><ellipse cx="398.7" cy="806.3" rx="2.25" ry="2.9"/></g>
<line x1="441.2" y1="668.2" x2="441.2" y2="777.4" stroke="#111" stroke-width="1.3"/>
<line x1="435.7" y1="668.2" x2="446.7" y2="668.2" stroke="#111" stroke-width="1.2"/>
<line x1="435.7" y1="777.4" x2="446.7" y2="777.4" stroke="#111" stroke-width="1.2"/>
<rect x="430.7" y="701.3" width="21" height="36.7" fill="#646464" stroke="#111" stroke-width="1.1"/>
<line x1="430.7" y1="716.0" x2="451.7" y2="716.0" stroke="#111" stroke-width="1.1"/>
<g fill="#000"><ellipse cx="441.2" cy="668.2" rx="2.25" ry="2.9"/><ellipse cx="441.2" cy="681.9" rx="2.25" ry="2.9"/><ellipse cx="450.4" cy="697.4" rx="2.25" ry="2.9"/><ellipse cx="431.8" cy="700.3" rx="2.25" ry="2.9"/><ellipse cx="444.1" cy="700.3" rx="2.25" ry="2.9"/><ellipse cx="437.9" cy="703.1" rx="2.25" ry="2.9"/><ellipse cx="431.8" cy="708.9" rx="2.25" ry="2.9"/><ellipse cx="450.4" cy="708.9" rx="2.25" ry="2.9"/><ellipse cx="444.1" cy="713.9" rx="2.25" ry="2.9"/><ellipse cx="450.4" cy="715.3" rx="2.25" ry="2.9"/><ellipse cx="437.9" cy="718.9" rx="2.25" ry="2.9"/><ellipse cx="444.1" cy="720.4" rx="2.25" ry="2.9"/><ellipse cx="437.9" cy="727.5" rx="2.25" ry="2.9"/><ellipse cx="444.1" cy="727.5" rx="2.25" ry="2.9"/><ellipse cx="441.2" cy="739.0" rx="2.25" ry="2.9"/><ellipse cx="444.1" cy="745.5" rx="2.25" ry="2.9"/><ellipse cx="437.9" cy="748.4" rx="2.25" ry="2.9"/><ellipse cx="441.2" cy="754.8" rx="2.25" ry="2.9"/><ellipse cx="441.2" cy="777.4" rx="2.25" ry="2.9"/></g>
<line x1="470.9" y1="658.9" x2="470.9" y2="752.2" stroke="#111" stroke-width="1.3"/>
<line x1="465.4" y1="658.9" x2="476.4" y2="658.9" stroke="#111" stroke-width="1.2"/>
<line x1="465.4" y1="752.2" x2="476.4" y2="752.2" stroke="#111" stroke-width="1.2"/>
<rect x="460.4" y="702.4" width="21" height="21.8" fill="#e2e2e2" stroke="#111" stroke-width="1.1"/>
<line x1="460.4" y1="712.0" x2="481.4" y2="712.0" stroke="#111" stroke-width="1.1"/>
<g fill="#000"><ellipse cx="470.9" cy="658.9" rx="2.25" ry="2.9"/><ellipse cx="470.9" cy="681.6" rx="2.25" ry="2.9"/><ellipse cx="465.2" cy="692.6" rx="2.25" ry="2.9"/><ellipse cx="472.4" cy="695.9" rx="2.25" ry="2.9"/><ellipse cx="476.3" cy="695.9" rx="2.25" ry="2.9"/><ellipse cx="468.8" cy="697.4" rx="2.25" ry="2.9"/><ellipse cx="465.2" cy="702.4" rx="2.25" ry="2.9"/><ellipse cx="469.5" cy="702.4" rx="2.25" ry="2.9"/><ellipse cx="474.5" cy="702.4" rx="2.25" ry="2.9"/><ellipse cx="460.9" cy="708.9" rx="2.25" ry="2.9"/><ellipse cx="464.5" cy="708.9" rx="2.25" ry="2.9"/><ellipse cx="468.1" cy="708.9" rx="2.25" ry="2.9"/><ellipse cx="469.7" cy="708.9" rx="2.25" ry="2.9"/><ellipse cx="473.1" cy="708.9" rx="2.25" ry="2.9"/><ellipse cx="476.7" cy="708.9" rx="2.25" ry="2.9"/><ellipse cx="480.3" cy="708.9" rx="2.25" ry="2.9"/><ellipse cx="468.8" cy="713.9" rx="2.25" ry="2.9"/><ellipse cx="472.4" cy="713.9" rx="2.25" ry="2.9"/><ellipse cx="465.2" cy="720.4" rx="2.25" ry="2.9"/><ellipse cx="468.1" cy="720.4" rx="2.25" ry="2.9"/><ellipse cx="468.8" cy="726.8" rx="2.25" ry="2.9"/><ellipse cx="472.4" cy="724.7" rx="2.25" ry="2.9"/><ellipse cx="470.9" cy="736.2" rx="2.25" ry="2.9"/><ellipse cx="465.2" cy="743.3" rx="2.25" ry="2.9"/><ellipse cx="476.3" cy="748.4" rx="2.25" ry="2.9"/><ellipse cx="465.2" cy="752.7" rx="2.25" ry="2.9"/><ellipse cx="472.4" cy="752.7" rx="2.25" ry="2.9"/></g>
<line x1="513.4" y1="575.0" x2="513.4" y2="791.6" stroke="#111" stroke-width="1.3"/>
<line x1="507.9" y1="575.0" x2="518.9" y2="575.0" stroke="#111" stroke-width="1.2"/>
<line x1="507.9" y1="791.6" x2="518.9" y2="791.6" stroke="#111" stroke-width="1.2"/>
<rect x="502.9" y="704.9" width="21" height="21.8" fill="#646464" stroke="#111" stroke-width="1.1"/>
<line x1="502.9" y1="715.0" x2="523.9" y2="715.0" stroke="#111" stroke-width="1.1"/>
<g fill="#000"><ellipse cx="513.4" cy="575.0" rx="2.25" ry="2.9"/><ellipse cx="513.4" cy="590.8" rx="2.25" ry="2.9"/><ellipse cx="513.4" cy="609.2" rx="2.25" ry="2.9"/><ellipse cx="513.4" cy="655.0" rx="2.25" ry="2.9"/><ellipse cx="510.4" cy="688.7" rx="2.25" ry="2.9"/><ellipse cx="516.4" cy="688.7" rx="2.25" ry="2.9"/><ellipse cx="513.4" cy="693.3" rx="2.25" ry="2.9"/><ellipse cx="507.0" cy="699.3" rx="2.25" ry="2.9"/><ellipse cx="503.7" cy="704.0" rx="2.25" ry="2.9"/><ellipse cx="519.7" cy="704.0" rx="2.25" ry="2.9"/><ellipse cx="522.4" cy="704.0" rx="2.25" ry="2.9"/><ellipse cx="504.4" cy="707.3" rx="2.25" ry="2.9"/><ellipse cx="508.4" cy="707.3" rx="2.25" ry="2.9"/><ellipse cx="513.0" cy="707.3" rx="2.25" ry="2.9"/><ellipse cx="517.7" cy="707.3" rx="2.25" ry="2.9"/><ellipse cx="521.7" cy="707.3" rx="2.25" ry="2.9"/><ellipse cx="503.7" cy="712.0" rx="2.25" ry="2.9"/><ellipse cx="507.7" cy="712.0" rx="2.25" ry="2.9"/><ellipse cx="512.4" cy="712.0" rx="2.25" ry="2.9"/><ellipse cx="517.0" cy="712.0" rx="2.25" ry="2.9"/><ellipse cx="521.0" cy="712.0" rx="2.25" ry="2.9"/><ellipse cx="523.0" cy="712.0" rx="2.25" ry="2.9"/><ellipse cx="505.0" cy="716.0" rx="2.25" ry="2.9"/><ellipse cx="509.0" cy="716.0" rx="2.25" ry="2.9"/><ellipse cx="513.7" cy="716.0" rx="2.25" ry="2.9"/><ellipse cx="518.4" cy="716.0" rx="2.25" ry="2.9"/><ellipse cx="522.4" cy="716.0" rx="2.25" ry="2.9"/><ellipse cx="506.4" cy="720.0" rx="2.25" ry="2.9"/><ellipse cx="511.0" cy="720.0" rx="2.25" ry="2.9"/><ellipse cx="515.7" cy="720.0" rx="2.25" ry="2.9"/><ellipse cx="520.4" cy="720.0" rx="2.25" ry="2.9"/><ellipse cx="510.4" cy="723.5" rx="2.25" ry="2.9"/><ellipse cx="514.4" cy="724.5" rx="2.25" ry="2.9"/><ellipse cx="517.0" cy="723.5" rx="2.25" ry="2.9"/><ellipse cx="510.4" cy="732.0" rx="2.25" ry="2.9"/><ellipse cx="519.0" cy="732.0" rx="2.25" ry="2.9"/><ellipse cx="516.4" cy="734.7" rx="2.25" ry="2.9"/><ellipse cx="513.0" cy="736.7" rx="2.25" ry="2.9"/><ellipse cx="510.4" cy="739.3" rx="2.25" ry="2.9"/><ellipse cx="515.7" cy="741.3" rx="2.25" ry="2.9"/><ellipse cx="513.0" cy="744.0" rx="2.25" ry="2.9"/><ellipse cx="513.4" cy="791.6" rx="2.25" ry="2.9"/></g>
<line x1="543.1" y1="680.7" x2="543.1" y2="761.0" stroke="#111" stroke-width="1.3"/>
<line x1="537.6" y1="680.7" x2="548.6" y2="680.7" stroke="#111" stroke-width="1.2"/>
<line x1="537.6" y1="761.0" x2="548.6" y2="761.0" stroke="#111" stroke-width="1.2"/>
<rect x="532.6" y="707.3" width="21" height="13.4" fill="#e2e2e2" stroke="#111" stroke-width="1.1"/>
<line x1="532.6" y1="714.0" x2="553.6" y2="714.0" stroke="#111" stroke-width="1.1"/>
<g fill="#000"><ellipse cx="542.3" cy="680.7" rx="2.25" ry="2.9"/><ellipse cx="543.7" cy="687.3" rx="2.25" ry="2.9"/><ellipse cx="543.1" cy="691.3" rx="2.25" ry="2.9"/><ellipse cx="540.3" cy="694.7" rx="2.25" ry="2.9"/><ellipse cx="545.7" cy="694.7" rx="2.25" ry="2.9"/><ellipse cx="543.1" cy="698.7" rx="2.25" ry="2.9"/><ellipse cx="541.7" cy="705.3" rx="2.25" ry="2.9"/><ellipse cx="537.7" cy="709.0" rx="2.25" ry="2.9"/><ellipse cx="547.0" cy="709.0" rx="2.25" ry="2.9"/><ellipse cx="541.0" cy="711.3" rx="2.25" ry="2.9"/><ellipse cx="551.0" cy="714.7" rx="2.25" ry="2.9"/><ellipse cx="535.7" cy="718.0" rx="2.25" ry="2.9"/><ellipse cx="539.7" cy="718.0" rx="2.25" ry="2.9"/><ellipse cx="544.3" cy="718.0" rx="2.25" ry="2.9"/><ellipse cx="548.3" cy="718.0" rx="2.25" ry="2.9"/><ellipse cx="533.7" cy="722.0" rx="2.25" ry="2.9"/><ellipse cx="537.7" cy="722.0" rx="2.25" ry="2.9"/><ellipse cx="542.3" cy="722.0" rx="2.25" ry="2.9"/><ellipse cx="547.0" cy="722.0" rx="2.25" ry="2.9"/><ellipse cx="551.7" cy="722.0" rx="2.25" ry="2.9"/><ellipse cx="537.7" cy="727.3" rx="2.25" ry="2.9"/><ellipse cx="541.7" cy="727.3" rx="2.25" ry="2.9"/><ellipse cx="547.7" cy="727.3" rx="2.25" ry="2.9"/><ellipse cx="543.1" cy="736.0" rx="2.25" ry="2.9"/><ellipse cx="542.3" cy="742.7" rx="2.25" ry="2.9"/><ellipse cx="543.7" cy="744.7" rx="2.25" ry="2.9"/><ellipse cx="543.1" cy="761.2" rx="2.25" ry="2.9"/></g>
<line x1="585.6" y1="522.6" x2="585.6" y2="777.4" stroke="#111" stroke-width="1.3"/>
<line x1="580.1" y1="777.4" x2="591.1" y2="777.4" stroke="#111" stroke-width="1.2"/>
<rect x="575.1" y="668.9" width="21" height="66.2" fill="#646464" stroke="#111" stroke-width="1.1"/>
<line x1="575.1" y1="711.6" x2="596.1" y2="711.6" stroke="#111" stroke-width="1.1"/>
<g fill="#000"><ellipse cx="582.3" cy="522.6" rx="2.25" ry="2.9"/><ellipse cx="588.9" cy="522.6" rx="2.25" ry="2.9"/><ellipse cx="585.6" cy="550.0" rx="2.25" ry="2.9"/><ellipse cx="585.6" cy="627.7" rx="2.25" ry="2.9"/><ellipse cx="585.6" cy="643.0" rx="2.25" ry="2.9"/><ellipse cx="588.0" cy="650.0" rx="2.25" ry="2.9"/><ellipse cx="582.4" cy="652.3" rx="2.25" ry="2.9"/><ellipse cx="576.3" cy="663.7" rx="2.25" ry="2.9"/><ellipse cx="582.4" cy="667.3" rx="2.25" ry="2.9"/><ellipse cx="588.3" cy="667.3" rx="2.25" ry="2.9"/><ellipse cx="585.6" cy="686.4" rx="2.25" ry="2.9"/><ellipse cx="576.3" cy="698.0" rx="2.25" ry="2.9"/><ellipse cx="588.3" cy="698.0" rx="2.25" ry="2.9"/><ellipse cx="594.4" cy="700.0" rx="2.25" ry="2.9"/><ellipse cx="576.3" cy="704.7" rx="2.25" ry="2.9"/><ellipse cx="588.3" cy="704.7" rx="2.25" ry="2.9"/><ellipse cx="594.4" cy="706.0" rx="2.25" ry="2.9"/><ellipse cx="582.4" cy="708.7" rx="2.25" ry="2.9"/><ellipse cx="576.3" cy="711.3" rx="2.25" ry="2.9"/><ellipse cx="588.3" cy="714.0" rx="2.25" ry="2.9"/><ellipse cx="582.4" cy="719.3" rx="2.25" ry="2.9"/><ellipse cx="588.3" cy="720.7" rx="2.25" ry="2.9"/><ellipse cx="576.3" cy="724.7" rx="2.25" ry="2.9"/><ellipse cx="582.4" cy="725.3" rx="2.25" ry="2.9"/><ellipse cx="588.3" cy="729.6" rx="2.25" ry="2.9"/><ellipse cx="582.4" cy="734.7" rx="2.25" ry="2.9"/><ellipse cx="576.3" cy="736.7" rx="2.25" ry="2.9"/><ellipse cx="594.4" cy="736.7" rx="2.25" ry="2.9"/><ellipse cx="588.3" cy="742.7" rx="2.25" ry="2.9"/><ellipse cx="582.4" cy="746.0" rx="2.25" ry="2.9"/><ellipse cx="588.3" cy="750.0" rx="2.25" ry="2.9"/><ellipse cx="576.3" cy="754.7" rx="2.25" ry="2.9"/><ellipse cx="594.4" cy="754.7" rx="2.25" ry="2.9"/><ellipse cx="582.4" cy="757.3" rx="2.25" ry="2.9"/><ellipse cx="588.3" cy="757.3" rx="2.25" ry="2.9"/><ellipse cx="585.6" cy="777.4" rx="2.25" ry="2.9"/></g>
<line x1="615.3" y1="522.6" x2="615.3" y2="757.3" stroke="#111" stroke-width="1.3"/>
<line x1="609.8" y1="522.6" x2="620.8" y2="522.6" stroke="#111" stroke-width="1.2"/>
<rect x="604.8" y="704.0" width="21" height="22.0" fill="#e2e2e2" stroke="#111" stroke-width="1.1"/>
<line x1="604.8" y1="715.0" x2="625.8" y2="715.0" stroke="#111" stroke-width="1.1"/>
<g fill="#000"><ellipse cx="615.3" cy="522.6" rx="2.25" ry="2.9"/><ellipse cx="615.3" cy="611.8" rx="2.25" ry="2.9"/><ellipse cx="614.9" cy="684.0" rx="2.25" ry="2.9"/><ellipse cx="618.0" cy="688.7" rx="2.25" ry="2.9"/><ellipse cx="614.9" cy="691.3" rx="2.25" ry="2.9"/><ellipse cx="618.0" cy="695.3" rx="2.25" ry="2.9"/><ellipse cx="606.0" cy="700.7" rx="2.25" ry="2.9"/><ellipse cx="614.9" cy="700.0" rx="2.25" ry="2.9"/><ellipse cx="621.3" cy="700.7" rx="2.25" ry="2.9"/><ellipse cx="624.7" cy="702.0" rx="2.25" ry="2.9"/><ellipse cx="608.7" cy="706.0" rx="2.25" ry="2.9"/><ellipse cx="612.7" cy="706.0" rx="2.25" ry="2.9"/><ellipse cx="616.7" cy="706.0" rx="2.25" ry="2.9"/><ellipse cx="620.7" cy="706.0" rx="2.25" ry="2.9"/><ellipse cx="624.7" cy="706.0" rx="2.25" ry="2.9"/><ellipse cx="610.7" cy="710.0" rx="2.25" ry="2.9"/><ellipse cx="614.9" cy="710.0" rx="2.25" ry="2.9"/><ellipse cx="619.3" cy="710.0" rx="2.25" ry="2.9"/><ellipse cx="624.7" cy="710.0" rx="2.25" ry="2.9"/><ellipse cx="606.0" cy="714.0" rx="2.25" ry="2.9"/><ellipse cx="609.3" cy="714.0" rx="2.25" ry="2.9"/><ellipse cx="618.0" cy="714.0" rx="2.25" ry="2.9"/><ellipse cx="606.0" cy="720.0" rx="2.25" ry="2.9"/><ellipse cx="610.7" cy="720.0" rx="2.25" ry="2.9"/><ellipse cx="614.7" cy="720.0" rx="2.25" ry="2.9"/><ellipse cx="619.3" cy="720.0" rx="2.25" ry="2.9"/><ellipse cx="624.7" cy="723.3" rx="2.25" ry="2.9"/><ellipse cx="612.0" cy="724.7" rx="2.25" ry="2.9"/><ellipse cx="616.0" cy="724.7" rx="2.25" ry="2.9"/><ellipse cx="608.7" cy="728.0" rx="2.25" ry="2.9"/><ellipse cx="621.3" cy="728.0" rx="2.25" ry="2.9"/><ellipse cx="612.0" cy="732.0" rx="2.25" ry="2.9"/><ellipse cx="618.0" cy="734.7" rx="2.25" ry="2.9"/><ellipse cx="612.0" cy="739.3" rx="2.25" ry="2.9"/><ellipse cx="614.9" cy="744.0" rx="2.25" ry="2.9"/><ellipse cx="618.4" cy="744.0" rx="2.25" ry="2.9"/><ellipse cx="612.0" cy="757.3" rx="2.25" ry="2.9"/><ellipse cx="614.9" cy="757.3" rx="2.25" ry="2.9"/><ellipse cx="618.4" cy="757.3" rx="2.25" ry="2.9"/></g>
<line x1="132.8" y1="898.0" x2="637" y2="898.0" stroke="#bdbdbd" stroke-width="1.5"/>
<line x1="132.8" y1="852.6" x2="637" y2="852.6" stroke="#bdbdbd" stroke-width="1.5"/>
<line x1="132.8" y1="807.1" x2="637" y2="807.1" stroke="#bdbdbd" stroke-width="1.5"/>
<line x1="132.8" y1="761.7" x2="637" y2="761.7" stroke="#bdbdbd" stroke-width="1.5"/>
<line x1="132.8" y1="716.2" x2="637" y2="716.2" stroke="#bdbdbd" stroke-width="1.5"/>
<line x1="132.8" y1="670.7" x2="637" y2="670.7" stroke="#bdbdbd" stroke-width="1.5"/>
<line x1="132.8" y1="625.3" x2="637" y2="625.3" stroke="#bdbdbd" stroke-width="1.5"/>
<line x1="132.8" y1="579.8" x2="637" y2="579.8" stroke="#bdbdbd" stroke-width="1.5"/>
<line x1="132.8" y1="534.4" x2="637" y2="534.4" stroke="#bdbdbd" stroke-width="1.5"/>
<line x1="132.8" y1="488.9" x2="637" y2="488.9" stroke="#bdbdbd" stroke-width="1.5"/>
<line x1="132.8" y1="443.4" x2="637" y2="443.4" stroke="#bdbdbd" stroke-width="1.5"/>
<path d="M289.4 857.5 V868.4 H334.2 V857.5" fill="none" stroke="#111" stroke-width="1.5"/>
<path d="M361.8 842 V852.8 H406.5 V842" fill="none" stroke="#111" stroke-width="1.5"/>
</svg>
</body></html>
